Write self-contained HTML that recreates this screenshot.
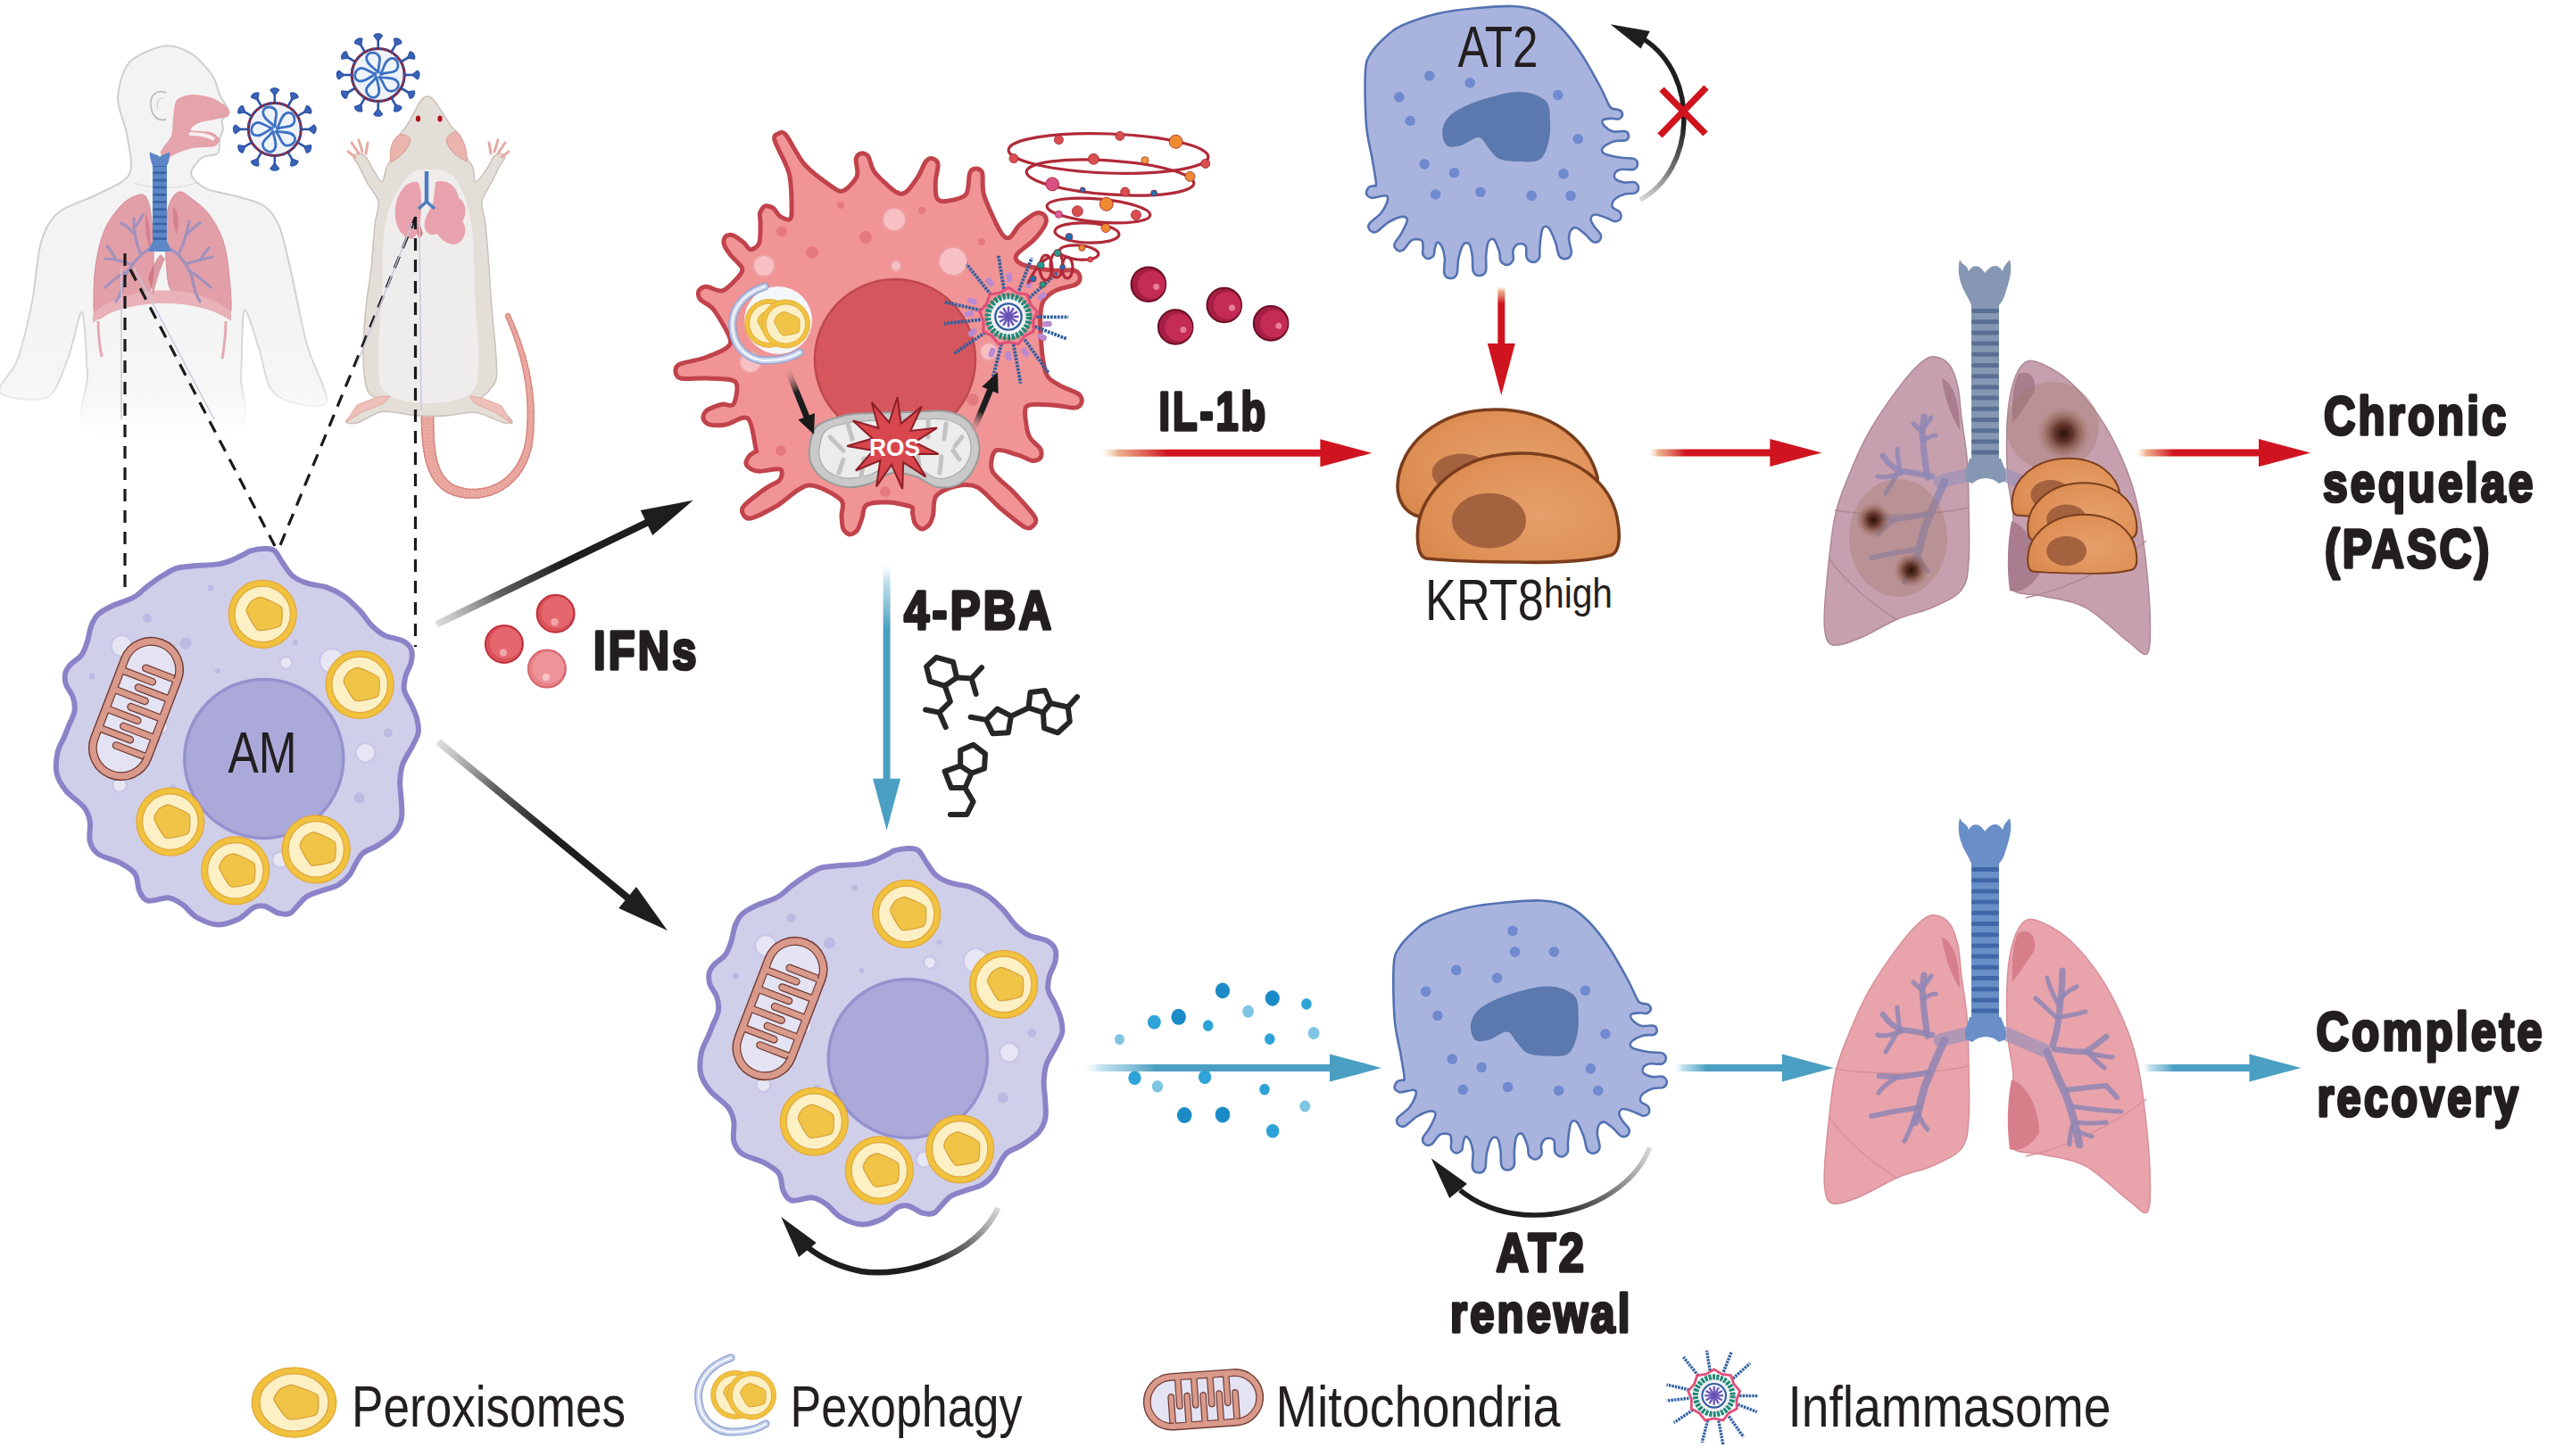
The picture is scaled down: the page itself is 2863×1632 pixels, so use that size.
<!DOCTYPE html>
<html><head><meta charset="utf-8"><style>
html,body{margin:0;padding:0;background:#fff;}
body{width:2863px;height:1632px;overflow:hidden;}
svg{display:block;}
text{font-family:"Liberation Sans",sans-serif;}
</style></head><body>
<svg width="2863" height="1632" viewBox="0 0 2863 1632" xmlns="http://www.w3.org/2000/svg">
<defs><linearGradient id="hg" gradientUnits="userSpaceOnUse" x1="0" y1="300" x2="0" y2="490"><stop offset="0" stop-color="#f3f3f4" stop-opacity="1"/><stop offset="0.7" stop-color="#f6f6f7" stop-opacity="1"/><stop offset="1" stop-color="#ffffff" stop-opacity="1"/></linearGradient><linearGradient id="hs" gradientUnits="userSpaceOnUse" x1="0" y1="300" x2="0" y2="490"><stop offset="0" stop-color="#cfcfd2" stop-opacity="1"/><stop offset="0.7" stop-color="#dcdcdf" stop-opacity="1"/><stop offset="1" stop-color="#ffffff" stop-opacity="0"/></linearGradient><linearGradient id="sa1" gradientUnits="userSpaceOnUse" x1="882" y1="413" x2="903.7344876077372" y2="466.6117360990851"><stop offset="0" stop-color="#f0a0a0" stop-opacity="0.2"/><stop offset="0.5" stop-color="#202020" stop-opacity="1"/><stop offset="1" stop-color="#1a1a1a" stop-opacity="1"/></linearGradient><linearGradient id="sa2" gradientUnits="userSpaceOnUse" x1="1090" y1="484" x2="1109.5169539122219" y2="437.29871742432596"><stop offset="0" stop-color="#f0a0a0" stop-opacity="0.2"/><stop offset="0.5" stop-color="#202020" stop-opacity="1"/><stop offset="1" stop-color="#1a1a1a" stop-opacity="1"/></linearGradient><radialGradient id="kg" cx="0.6" cy="0.55" r="0.7"><stop offset="0" stop-color="#e6a06b"/><stop offset="0.7" stop-color="#df9157"/><stop offset="1" stop-color="#d6864a"/></radialGradient><radialGradient id="les"><stop offset="0" stop-color="#2a0e08"/><stop offset="0.35" stop-color="#5a2c20" stop-opacity="0.9"/><stop offset="0.7" stop-color="#8a5a48" stop-opacity="0.5"/><stop offset="1" stop-color="#a87868" stop-opacity="0"/></radialGradient><linearGradient id="ca1" gradientUnits="userSpaceOnUse" x1="1838" y1="224" x2="1888" y2="140"><stop offset="0" stop-color="#d4d4d4" stop-opacity="0.9"/><stop offset="0.5" stop-color="#707070" stop-opacity="1"/><stop offset="1" stop-color="#1e1e1e" stop-opacity="1"/></linearGradient><linearGradient id="ca2" gradientUnits="userSpaceOnUse" x1="1848" y1="1286" x2="1735" y2="1360"><stop offset="0" stop-color="#d4d4d4" stop-opacity="0.9"/><stop offset="0.5" stop-color="#707070" stop-opacity="1"/><stop offset="1" stop-color="#1e1e1e" stop-opacity="1"/></linearGradient><linearGradient id="ca3" gradientUnits="userSpaceOnUse" x1="1118" y1="1354" x2="1040" y2="1420"><stop offset="0" stop-color="#d4d4d4" stop-opacity="0.9"/><stop offset="0.5" stop-color="#707070" stop-opacity="1"/><stop offset="1" stop-color="#1e1e1e" stop-opacity="1"/></linearGradient><linearGradient id="ga1" gradientUnits="userSpaceOnUse" x1="1234" y1="507.8" x2="1479.4" y2="507.8"><stop offset="0" stop-color="#f4c8a0" stop-opacity="0.0"/><stop offset="0.08" stop-color="#e89a70" stop-opacity="0.8"/><stop offset="0.3" stop-color="#d0141f" stop-opacity="1"/><stop offset="1" stop-color="#d0141f" stop-opacity="1"/></linearGradient><linearGradient id="ga2" gradientUnits="userSpaceOnUse" x1="1848" y1="507.4" x2="1983.3" y2="507.4"><stop offset="0" stop-color="#f4c8a0" stop-opacity="0.0"/><stop offset="0.08" stop-color="#e89a70" stop-opacity="0.8"/><stop offset="0.3" stop-color="#d0141f" stop-opacity="1"/><stop offset="1" stop-color="#d0141f" stop-opacity="1"/></linearGradient><linearGradient id="ga3" gradientUnits="userSpaceOnUse" x1="2394" y1="507.6" x2="2531.0" y2="507.6"><stop offset="0" stop-color="#f4c8a0" stop-opacity="0.0"/><stop offset="0.08" stop-color="#e89a70" stop-opacity="0.8"/><stop offset="0.3" stop-color="#d0141f" stop-opacity="1"/><stop offset="1" stop-color="#d0141f" stop-opacity="1"/></linearGradient><linearGradient id="ga4" gradientUnits="userSpaceOnUse" x1="1682.3" y1="321" x2="1682.3" y2="385.0"><stop offset="0" stop-color="#f4c8a0" stop-opacity="0.0"/><stop offset="0.08" stop-color="#e89a70" stop-opacity="0.8"/><stop offset="0.3" stop-color="#d0141f" stop-opacity="1"/><stop offset="1" stop-color="#d0141f" stop-opacity="1"/></linearGradient><linearGradient id="gb1" gradientUnits="userSpaceOnUse" x1="1213" y1="1197" x2="1490.0" y2="1197.0"><stop offset="0" stop-color="#e0f0f6" stop-opacity="0.0"/><stop offset="0.08" stop-color="#b0d8e8" stop-opacity="0.8"/><stop offset="0.3" stop-color="#4a9fc2" stop-opacity="1"/><stop offset="1" stop-color="#4a9fc2" stop-opacity="1"/></linearGradient><linearGradient id="gb2" gradientUnits="userSpaceOnUse" x1="1876" y1="1197" x2="1996.8000000000002" y2="1197.0"><stop offset="0" stop-color="#e0f0f6" stop-opacity="0.0"/><stop offset="0.08" stop-color="#b0d8e8" stop-opacity="0.8"/><stop offset="0.3" stop-color="#4a9fc2" stop-opacity="1"/><stop offset="1" stop-color="#4a9fc2" stop-opacity="1"/></linearGradient><linearGradient id="gb3" gradientUnits="userSpaceOnUse" x1="2400" y1="1197" x2="2520.5" y2="1197.0"><stop offset="0" stop-color="#e0f0f6" stop-opacity="0.0"/><stop offset="0.08" stop-color="#b0d8e8" stop-opacity="0.8"/><stop offset="0.3" stop-color="#4a9fc2" stop-opacity="1"/><stop offset="1" stop-color="#4a9fc2" stop-opacity="1"/></linearGradient><linearGradient id="gb4" gradientUnits="userSpaceOnUse" x1="993.6" y1="632" x2="993.6" y2="872.7"><stop offset="0" stop-color="#e0f0f6" stop-opacity="0.0"/><stop offset="0.08" stop-color="#b0d8e8" stop-opacity="0.8"/><stop offset="0.3" stop-color="#4a9fc2" stop-opacity="1"/><stop offset="1" stop-color="#4a9fc2" stop-opacity="1"/></linearGradient><linearGradient id="gk1" gradientUnits="userSpaceOnUse" x1="489" y1="700" x2="724.490074878493" y2="586.0611107991441"><stop offset="0" stop-color="#d0d0d0" stop-opacity="0.7"/><stop offset="0.3" stop-color="#606060" stop-opacity="1"/><stop offset="0.6" stop-color="#1e1e1e" stop-opacity="1"/><stop offset="1" stop-color="#1e1e1e" stop-opacity="1"/></linearGradient><linearGradient id="gk2" gradientUnits="userSpaceOnUse" x1="491" y1="831.4" x2="703.1225123869037" y2="1006.0357001550415"><stop offset="0" stop-color="#d0d0d0" stop-opacity="0.7"/><stop offset="0.3" stop-color="#606060" stop-opacity="1"/><stop offset="0.6" stop-color="#1e1e1e" stop-opacity="1"/><stop offset="1" stop-color="#1e1e1e" stop-opacity="1"/></linearGradient></defs>
<rect width="2863" height="1632" fill="#ffffff"/>
<path d="M184.6,51.5 C195.0,50.0 206.9,55.8 214.2,59.8 C221.5,63.8 229.0,73.6 233.0,78.0 C237.0,82.4 238.5,84.9 240.6,89.4 C242.7,93.9 244.5,102.6 247.0,108.0 C249.5,113.4 256.7,121.8 257.0,125.7 C257.3,129.6 250.1,131.1 249.0,134.0 C247.9,136.9 250.4,141.7 250.0,145.0 C249.6,148.3 246.9,152.0 246.0,156.0 C245.1,160.0 247.0,168.7 244.0,171.8 C241.0,175.0 230.5,173.5 226.0,177.0 C221.5,180.5 213.5,189.7 214.2,194.9 C214.9,200.1 223.1,207.6 230.7,211.4 C238.3,215.2 255.1,217.0 265.0,220.0 C274.9,223.0 289.4,226.1 296.6,231.2 C303.8,236.3 308.8,243.9 313.1,254.2 C317.4,264.5 322.0,287.6 325.0,300.0 C328.0,312.4 329.9,323.1 332.9,336.6 C335.9,350.1 340.0,373.0 345.0,390.0 C350.0,407.0 368.2,440.7 366.0,450.0 C363.8,459.3 339.4,454.2 330.0,452.0 C320.6,449.8 309.2,444.8 303.2,435.5 C297.2,426.2 294.4,403.1 290.0,390.0 C285.6,376.9 276.6,343.5 273.6,348.0 C270.6,352.5 271.7,399.4 270.0,420.0 C268.3,440.6 287.2,475.2 262.0,485.0 C236.8,494.8 126.6,494.8 102.0,485.0 C77.4,475.2 99.5,440.2 98.0,420.0 C96.5,399.8 95.3,352.6 92.0,350.0 C88.7,347.4 81.7,388.3 75.8,402.6 C69.9,416.9 64.1,439.8 52.7,445.4 C41.3,451.0 4.9,446.4 0.0,440.0 C-4.9,433.6 14.4,418.1 19.8,402.6 C25.2,387.1 32.4,356.4 36.3,336.6 C40.2,316.8 41.7,285.5 46.1,270.7 C50.5,255.9 56.5,245.7 65.9,237.8 C75.3,229.9 96.9,224.4 108.8,218.0 C120.7,211.6 140.0,205.1 145.0,194.9 C150.0,184.7 143.9,162.7 142.0,150.0 C140.1,137.3 131.6,122.0 132.0,110.0 C132.4,98.0 137.1,78.8 145.0,70.0 C152.9,61.2 174.2,53.0 184.6,51.5Z" fill="url(#hg)" stroke="url(#hs)" stroke-width="2"/><path d="M186,104 C176,100 168,106 169,118 C170,130 176,136 186,134" fill="none" stroke="#bdbdc2" stroke-width="1.8"/><path d="M183,110 C177,110 175,116 177,122" fill="none" stroke="#cfcfd3" stroke-width="1.2"/><path d="M150,205 C170,212 200,212 220,205" fill="none" stroke="#dadadd" stroke-width="1.2"/><path d="M198.0,112.0 C200.9,108.5 210.7,106.3 216.0,106.0 C221.3,105.7 232.9,108.1 238.0,110.0 C243.1,111.9 251.6,117.3 254.0,120.0 C256.4,122.7 257.9,128.1 256.0,130.0 C254.1,131.9 244.5,132.9 240.0,134.0 C235.5,135.1 225.5,136.4 222.0,138.0 C218.5,139.6 212.1,144.7 214.0,146.0 C215.9,147.3 231.7,146.7 236.0,148.0 C240.3,149.3 245.5,153.9 246.0,156.0 C246.5,158.1 244.0,162.7 240.0,164.0 C236.0,165.3 221.6,164.9 216.0,166.0 C210.4,167.1 202.0,170.4 198.0,172.0 C194.0,173.6 188.4,178.3 186.0,178.0 C183.6,177.7 179.2,173.5 180.0,170.0 C180.8,166.5 190.1,157.1 192.0,152.0 C193.9,146.9 193.2,137.3 194.0,132.0 C194.8,126.7 195.1,115.5 198.0,112.0Z" fill="#e5a3aa"/><path d="M212,150 C222,150 234,152 240,156" stroke="#f7f0f0" stroke-width="4" fill="none"/><path d="M158.0,218.0 C162.7,217.7 164.0,221.0 166.0,226.0 C168.0,231.0 169.0,239.0 170.0,248.0 C171.0,257.0 171.8,269.3 172.0,280.0 C172.2,290.7 172.2,303.3 171.0,312.0 C169.8,320.7 168.8,327.3 165.0,332.0 C161.2,336.7 154.2,337.5 148.0,340.0 C141.8,342.5 134.7,344.2 128.0,347.0 C121.3,349.8 111.8,359.8 108.0,357.0 C104.2,354.2 105.0,340.8 105.0,330.0 C105.0,319.2 105.8,304.3 108.0,292.0 C110.2,279.7 113.0,266.7 118.0,256.0 C123.0,245.3 131.3,234.3 138.0,228.0 C144.7,221.7 153.3,218.3 158.0,218.0Z" fill="#e39fa8" stroke="#d68d98" stroke-width="1"/><path d="M201.0,215.0 C204.8,214.3 208.5,217.8 214.0,222.0 C219.5,226.2 228.0,232.0 234.0,240.0 C240.0,248.0 246.2,258.3 250.0,270.0 C253.8,281.7 255.7,296.3 257.0,310.0 C258.3,323.7 260.5,346.5 258.0,352.0 C255.5,357.5 248.0,346.0 242.0,343.0 C236.0,340.0 228.7,336.0 222.0,334.0 C215.3,332.0 207.3,333.0 202.0,331.0 C196.7,329.0 192.7,328.8 190.0,322.0 C187.3,315.2 186.7,302.0 186.0,290.0 C185.3,278.0 185.2,260.7 186.0,250.0 C186.8,239.3 188.5,231.8 191.0,226.0 C193.5,220.2 197.2,215.7 201.0,215.0Z" fill="#e39fa8" stroke="#d68d98" stroke-width="1"/><path d="M163,238 C168,250 170,265 168,280 C164,270 162,255 163,238Z" fill="#d4828e"/><path d="M194,232 C200,236 202,250 198,262 C194,255 193,242 194,232Z" fill="#d4828e"/><path d="M104,352 C140,318 222,316 259,350 L259,360 C222,332 140,334 104,362 Z" fill="#e9b2b8"/><path d="M110,360 C110,375 112,390 114,400" stroke="#e6aab1" stroke-width="3" fill="none"/><path d="M253,360 C253,375 251,390 249,402" stroke="#e6aab1" stroke-width="3" fill="none"/><path d="M166,312 C170,300 175,290 180,285 L185,290 C180,300 176,312 172,330Z" fill="#c8606e" opacity="0.6"/><path d="M172,276 C160,282 150,292 140,310 M158,286 C152,272 150,260 150,245 M150,262 C144,255 140,252 136,250 M150,256 C155,250 158,246 160,240 M146,296 C135,292 126,290 118,290 M130,291 C126,284 124,280 120,276 M142,304 C132,310 124,316 118,322 M140,310 C138,322 134,332 130,338" fill="none" stroke="#9a8fbf" stroke-width="3.2" stroke-linecap="round" opacity="0.9"/><path d="M186,276 C198,282 208,292 215,310 M200,286 C206,272 210,260 212,248 M210,262 C216,256 220,252 224,250 M208,296 C220,292 230,290 238,288 M224,292 C228,286 230,282 234,278 M213,304 C222,310 230,316 236,322 M215,310 C217,322 220,332 224,338" fill="none" stroke="#9a8fbf" stroke-width="3.2" stroke-linecap="round" opacity="0.9"/><rect x="171" y="178" width="16" height="98" rx="4" fill="#5d86c6"/><rect x="171" y="184.0" width="16" height="3" rx="1.5" fill="#3d66aa"/><rect x="171" y="192.2" width="16" height="3" rx="1.5" fill="#3d66aa"/><rect x="171" y="200.4" width="16" height="3" rx="1.5" fill="#3d66aa"/><rect x="171" y="208.6" width="16" height="3" rx="1.5" fill="#3d66aa"/><rect x="171" y="216.8" width="16" height="3" rx="1.5" fill="#3d66aa"/><rect x="171" y="225.0" width="16" height="3" rx="1.5" fill="#3d66aa"/><rect x="171" y="233.2" width="16" height="3" rx="1.5" fill="#3d66aa"/><rect x="171" y="241.4" width="16" height="3" rx="1.5" fill="#3d66aa"/><rect x="171" y="249.6" width="16" height="3" rx="1.5" fill="#3d66aa"/><rect x="171" y="257.8" width="16" height="3" rx="1.5" fill="#3d66aa"/><rect x="171" y="266.0" width="16" height="3" rx="1.5" fill="#3d66aa"/><path d="M168,170 C172,174 176,172 179,176 C182,172 186,174 190,170 C191,178 188,184 187,186 L171,186 C170,182 167,176 168,170Z" fill="#5d86c6"/><path d="M170,272 L188,272 L192,282 L166,282Z" fill="#5d86c6"/><line x1="479.0" y1="462.0" x2="479.0" y2="469.9" stroke="#d78880" stroke-width="15.0" stroke-linecap="round"/><line x1="479.0" y1="469.9" x2="479.2" y2="477.5" stroke="#d78880" stroke-width="14.8" stroke-linecap="round"/><line x1="479.2" y1="477.5" x2="479.4" y2="484.8" stroke="#d78880" stroke-width="14.6" stroke-linecap="round"/><line x1="479.4" y1="484.8" x2="479.8" y2="491.8" stroke="#d78880" stroke-width="14.4" stroke-linecap="round"/><line x1="479.8" y1="491.8" x2="480.4" y2="498.4" stroke="#d78880" stroke-width="14.2" stroke-linecap="round"/><line x1="480.4" y1="498.4" x2="481.2" y2="504.7" stroke="#d78880" stroke-width="14.1" stroke-linecap="round"/><line x1="481.2" y1="504.7" x2="482.1" y2="510.6" stroke="#d78880" stroke-width="13.9" stroke-linecap="round"/><line x1="482.1" y1="510.6" x2="483.4" y2="516.2" stroke="#d78880" stroke-width="13.7" stroke-linecap="round"/><line x1="483.4" y1="516.2" x2="484.9" y2="521.5" stroke="#d78880" stroke-width="13.5" stroke-linecap="round"/><line x1="484.9" y1="521.5" x2="486.7" y2="526.4" stroke="#d78880" stroke-width="13.3" stroke-linecap="round"/><line x1="486.7" y1="526.4" x2="488.8" y2="531.0" stroke="#d78880" stroke-width="13.1" stroke-linecap="round"/><line x1="488.8" y1="531.0" x2="491.2" y2="535.1" stroke="#d78880" stroke-width="12.9" stroke-linecap="round"/><line x1="491.2" y1="535.1" x2="494.1" y2="538.9" stroke="#d78880" stroke-width="12.8" stroke-linecap="round"/><line x1="494.1" y1="538.9" x2="497.3" y2="542.3" stroke="#d78880" stroke-width="12.6" stroke-linecap="round"/><line x1="497.3" y1="542.3" x2="500.9" y2="545.4" stroke="#d78880" stroke-width="12.4" stroke-linecap="round"/><line x1="500.9" y1="545.4" x2="505.0" y2="548.0" stroke="#d78880" stroke-width="12.2" stroke-linecap="round"/><line x1="505.0" y1="548.0" x2="510.8" y2="550.3" stroke="#d78880" stroke-width="12.0" stroke-linecap="round"/><line x1="510.8" y1="550.3" x2="516.9" y2="552.0" stroke="#d78880" stroke-width="11.8" stroke-linecap="round"/><line x1="516.9" y1="552.0" x2="523.1" y2="553.1" stroke="#d78880" stroke-width="11.6" stroke-linecap="round"/><line x1="523.1" y1="553.1" x2="529.6" y2="553.4" stroke="#d78880" stroke-width="11.4" stroke-linecap="round"/><line x1="529.6" y1="553.4" x2="536.1" y2="553.1" stroke="#d78880" stroke-width="11.2" stroke-linecap="round"/><line x1="536.1" y1="553.1" x2="542.5" y2="552.1" stroke="#d78880" stroke-width="11.1" stroke-linecap="round"/><line x1="542.5" y1="552.1" x2="549.0" y2="550.4" stroke="#d78880" stroke-width="10.9" stroke-linecap="round"/><line x1="549.0" y1="550.4" x2="555.2" y2="548.0" stroke="#d78880" stroke-width="10.7" stroke-linecap="round"/><line x1="555.2" y1="548.0" x2="561.3" y2="544.8" stroke="#d78880" stroke-width="10.5" stroke-linecap="round"/><line x1="561.3" y1="544.8" x2="567.1" y2="540.9" stroke="#d78880" stroke-width="10.3" stroke-linecap="round"/><line x1="567.1" y1="540.9" x2="572.5" y2="536.1" stroke="#d78880" stroke-width="10.1" stroke-linecap="round"/><line x1="572.5" y1="536.1" x2="577.6" y2="530.6" stroke="#d78880" stroke-width="9.9" stroke-linecap="round"/><line x1="577.6" y1="530.6" x2="582.1" y2="524.2" stroke="#d78880" stroke-width="9.8" stroke-linecap="round"/><line x1="582.1" y1="524.2" x2="586.0" y2="517.0" stroke="#d78880" stroke-width="9.6" stroke-linecap="round"/><line x1="586.0" y1="517.0" x2="589.4" y2="508.9" stroke="#d78880" stroke-width="9.4" stroke-linecap="round"/><line x1="589.4" y1="508.9" x2="592.0" y2="500.0" stroke="#d78880" stroke-width="9.2" stroke-linecap="round"/><line x1="592.0" y1="500.0" x2="593.3" y2="490.6" stroke="#d78880" stroke-width="9.0" stroke-linecap="round"/><line x1="593.3" y1="490.6" x2="594.2" y2="481.3" stroke="#d78880" stroke-width="8.8" stroke-linecap="round"/><line x1="594.2" y1="481.3" x2="594.6" y2="471.9" stroke="#d78880" stroke-width="8.6" stroke-linecap="round"/><line x1="594.6" y1="471.9" x2="594.7" y2="462.6" stroke="#d78880" stroke-width="8.4" stroke-linecap="round"/><line x1="594.7" y1="462.6" x2="594.4" y2="453.2" stroke="#d78880" stroke-width="8.2" stroke-linecap="round"/><line x1="594.4" y1="453.2" x2="593.8" y2="444.0" stroke="#d78880" stroke-width="8.1" stroke-linecap="round"/><line x1="593.8" y1="444.0" x2="592.8" y2="434.7" stroke="#d78880" stroke-width="7.9" stroke-linecap="round"/><line x1="592.8" y1="434.7" x2="591.4" y2="425.5" stroke="#d78880" stroke-width="7.7" stroke-linecap="round"/><line x1="591.4" y1="425.5" x2="589.7" y2="416.3" stroke="#d78880" stroke-width="7.5" stroke-linecap="round"/><line x1="589.7" y1="416.3" x2="587.6" y2="407.2" stroke="#d78880" stroke-width="7.3" stroke-linecap="round"/><line x1="587.6" y1="407.2" x2="585.3" y2="398.2" stroke="#d78880" stroke-width="7.1" stroke-linecap="round"/><line x1="585.3" y1="398.2" x2="582.6" y2="389.2" stroke="#d78880" stroke-width="6.9" stroke-linecap="round"/><line x1="582.6" y1="389.2" x2="579.6" y2="380.3" stroke="#d78880" stroke-width="6.8" stroke-linecap="round"/><line x1="579.6" y1="380.3" x2="576.3" y2="371.4" stroke="#d78880" stroke-width="6.6" stroke-linecap="round"/><line x1="576.3" y1="371.4" x2="572.8" y2="362.7" stroke="#d78880" stroke-width="6.4" stroke-linecap="round"/><line x1="572.8" y1="362.7" x2="569.0" y2="354.0" stroke="#d78880" stroke-width="6.2" stroke-linecap="round"/><line x1="479.0" y1="462.0" x2="479.0" y2="469.9" stroke="#eba9a2" stroke-width="11.5" stroke-linecap="round"/><line x1="479.0" y1="469.9" x2="479.2" y2="477.5" stroke="#eba9a2" stroke-width="11.3" stroke-linecap="round"/><line x1="479.2" y1="477.5" x2="479.4" y2="484.8" stroke="#eba9a2" stroke-width="11.2" stroke-linecap="round"/><line x1="479.4" y1="484.8" x2="479.8" y2="491.8" stroke="#eba9a2" stroke-width="11.0" stroke-linecap="round"/><line x1="479.8" y1="491.8" x2="480.4" y2="498.4" stroke="#eba9a2" stroke-width="10.8" stroke-linecap="round"/><line x1="480.4" y1="498.4" x2="481.2" y2="504.7" stroke="#eba9a2" stroke-width="10.6" stroke-linecap="round"/><line x1="481.2" y1="504.7" x2="482.1" y2="510.6" stroke="#eba9a2" stroke-width="10.5" stroke-linecap="round"/><line x1="482.1" y1="510.6" x2="483.4" y2="516.2" stroke="#eba9a2" stroke-width="10.3" stroke-linecap="round"/><line x1="483.4" y1="516.2" x2="484.9" y2="521.5" stroke="#eba9a2" stroke-width="10.1" stroke-linecap="round"/><line x1="484.9" y1="521.5" x2="486.7" y2="526.4" stroke="#eba9a2" stroke-width="9.9" stroke-linecap="round"/><line x1="486.7" y1="526.4" x2="488.8" y2="531.0" stroke="#eba9a2" stroke-width="9.8" stroke-linecap="round"/><line x1="488.8" y1="531.0" x2="491.2" y2="535.1" stroke="#eba9a2" stroke-width="9.6" stroke-linecap="round"/><line x1="491.2" y1="535.1" x2="494.1" y2="538.9" stroke="#eba9a2" stroke-width="9.4" stroke-linecap="round"/><line x1="494.1" y1="538.9" x2="497.3" y2="542.3" stroke="#eba9a2" stroke-width="9.3" stroke-linecap="round"/><line x1="497.3" y1="542.3" x2="500.9" y2="545.4" stroke="#eba9a2" stroke-width="9.1" stroke-linecap="round"/><line x1="500.9" y1="545.4" x2="505.0" y2="548.0" stroke="#eba9a2" stroke-width="8.9" stroke-linecap="round"/><line x1="505.0" y1="548.0" x2="510.8" y2="550.3" stroke="#eba9a2" stroke-width="8.7" stroke-linecap="round"/><line x1="510.8" y1="550.3" x2="516.9" y2="552.0" stroke="#eba9a2" stroke-width="8.6" stroke-linecap="round"/><line x1="516.9" y1="552.0" x2="523.1" y2="553.1" stroke="#eba9a2" stroke-width="8.4" stroke-linecap="round"/><line x1="523.1" y1="553.1" x2="529.6" y2="553.4" stroke="#eba9a2" stroke-width="8.2" stroke-linecap="round"/><line x1="529.6" y1="553.4" x2="536.1" y2="553.1" stroke="#eba9a2" stroke-width="8.0" stroke-linecap="round"/><line x1="536.1" y1="553.1" x2="542.5" y2="552.1" stroke="#eba9a2" stroke-width="7.9" stroke-linecap="round"/><line x1="542.5" y1="552.1" x2="549.0" y2="550.4" stroke="#eba9a2" stroke-width="7.7" stroke-linecap="round"/><line x1="549.0" y1="550.4" x2="555.2" y2="548.0" stroke="#eba9a2" stroke-width="7.5" stroke-linecap="round"/><line x1="555.2" y1="548.0" x2="561.3" y2="544.8" stroke="#eba9a2" stroke-width="7.3" stroke-linecap="round"/><line x1="561.3" y1="544.8" x2="567.1" y2="540.9" stroke="#eba9a2" stroke-width="7.2" stroke-linecap="round"/><line x1="567.1" y1="540.9" x2="572.5" y2="536.1" stroke="#eba9a2" stroke-width="7.0" stroke-linecap="round"/><line x1="572.5" y1="536.1" x2="577.6" y2="530.6" stroke="#eba9a2" stroke-width="6.8" stroke-linecap="round"/><line x1="577.6" y1="530.6" x2="582.1" y2="524.2" stroke="#eba9a2" stroke-width="6.7" stroke-linecap="round"/><line x1="582.1" y1="524.2" x2="586.0" y2="517.0" stroke="#eba9a2" stroke-width="6.5" stroke-linecap="round"/><line x1="586.0" y1="517.0" x2="589.4" y2="508.9" stroke="#eba9a2" stroke-width="6.3" stroke-linecap="round"/><line x1="589.4" y1="508.9" x2="592.0" y2="500.0" stroke="#eba9a2" stroke-width="6.1" stroke-linecap="round"/><line x1="592.0" y1="500.0" x2="593.3" y2="490.6" stroke="#eba9a2" stroke-width="6.0" stroke-linecap="round"/><line x1="593.3" y1="490.6" x2="594.2" y2="481.3" stroke="#eba9a2" stroke-width="5.8" stroke-linecap="round"/><line x1="594.2" y1="481.3" x2="594.6" y2="471.9" stroke="#eba9a2" stroke-width="5.6" stroke-linecap="round"/><line x1="594.6" y1="471.9" x2="594.7" y2="462.6" stroke="#eba9a2" stroke-width="5.4" stroke-linecap="round"/><line x1="594.7" y1="462.6" x2="594.4" y2="453.2" stroke="#eba9a2" stroke-width="5.3" stroke-linecap="round"/><line x1="594.4" y1="453.2" x2="593.8" y2="444.0" stroke="#eba9a2" stroke-width="5.1" stroke-linecap="round"/><line x1="593.8" y1="444.0" x2="592.8" y2="434.7" stroke="#eba9a2" stroke-width="4.9" stroke-linecap="round"/><line x1="592.8" y1="434.7" x2="591.4" y2="425.5" stroke="#eba9a2" stroke-width="4.8" stroke-linecap="round"/><line x1="591.4" y1="425.5" x2="589.7" y2="416.3" stroke="#eba9a2" stroke-width="4.6" stroke-linecap="round"/><line x1="589.7" y1="416.3" x2="587.6" y2="407.2" stroke="#eba9a2" stroke-width="4.4" stroke-linecap="round"/><line x1="587.6" y1="407.2" x2="585.3" y2="398.2" stroke="#eba9a2" stroke-width="4.2" stroke-linecap="round"/><line x1="585.3" y1="398.2" x2="582.6" y2="389.2" stroke="#eba9a2" stroke-width="4.1" stroke-linecap="round"/><line x1="582.6" y1="389.2" x2="579.6" y2="380.3" stroke="#eba9a2" stroke-width="3.9" stroke-linecap="round"/><line x1="579.6" y1="380.3" x2="576.3" y2="371.4" stroke="#eba9a2" stroke-width="3.7" stroke-linecap="round"/><line x1="576.3" y1="371.4" x2="572.8" y2="362.7" stroke="#eba9a2" stroke-width="3.5" stroke-linecap="round"/><line x1="572.8" y1="362.7" x2="569.0" y2="354.0" stroke="#eba9a2" stroke-width="3.4" stroke-linecap="round"/><path d="M479,462 C479,505 482,535 505,548 C535,562 580,550 592,500 C600,450 590,400 569,354" fill="none" stroke="#d99690" stroke-width="7" stroke-dasharray="0.8 3.2" opacity="0.6"/><path d="M479.4,107.9 C481.5,107.9 483.2,108.7 486.0,112.0 C488.8,115.3 495.0,125.5 498.0,130.0 C501.0,134.5 503.2,138.4 506.0,142.0 C508.8,145.6 514.1,149.1 516.5,154.0 C518.9,158.9 520.0,169.9 522.0,175.0 C524.0,180.1 528.4,183.7 530.0,188.0 C531.6,192.3 530.8,203.7 533.0,204.0 C535.2,204.3 542.0,194.2 545.0,190.0 C548.0,185.8 550.8,178.7 553.0,176.0 C555.2,173.3 558.0,172.0 560.0,172.0 C562.0,172.0 566.0,173.9 566.0,176.0 C566.0,178.1 562.4,181.5 560.0,186.0 C557.6,190.5 553.0,200.0 550.0,206.0 C547.0,212.0 540.9,219.1 540.0,226.0 C539.1,232.9 542.8,240.9 544.0,252.0 C545.2,263.1 547.0,286.1 548.0,300.0 C549.0,313.9 549.8,330.0 551.0,345.0 C552.2,360.0 555.2,388.0 556.0,400.0 C556.8,412.0 557.2,419.3 556.0,425.0 C554.8,430.7 551.1,433.9 548.0,438.0 C544.9,442.1 533.2,448.7 535.0,452.0 C536.8,455.3 554.1,457.0 560.0,460.0 C565.9,463.0 573.2,469.9 574.0,472.0 C574.8,474.1 569.4,474.9 565.0,474.0 C560.6,473.1 550.2,467.8 545.0,466.0 C539.8,464.2 536.8,462.0 530.0,462.0 C523.2,462.0 509.0,465.4 500.0,466.0 C491.0,466.6 479.0,466.6 470.0,466.0 C461.0,465.4 446.8,462.6 440.0,462.0 C433.2,461.4 431.0,460.2 425.0,462.0 C419.0,463.8 405.6,472.5 400.0,474.0 C394.4,475.5 387.2,474.4 388.0,472.0 C388.8,469.6 399.3,461.3 405.0,458.0 C410.7,454.7 424.9,453.0 426.0,450.0 C427.1,447.0 414.9,445.5 412.0,438.0 C409.1,430.5 407.3,413.9 407.0,400.0 C406.7,386.1 408.6,360.0 410.0,345.0 C411.4,330.0 414.5,313.9 416.0,300.0 C417.5,286.1 418.8,263.1 420.0,252.0 C421.2,240.9 425.2,232.9 424.0,226.0 C422.8,219.1 415.3,212.0 412.0,206.0 C408.7,200.0 404.4,190.5 402.0,186.0 C399.6,181.5 396.0,178.1 396.0,176.0 C396.0,173.9 399.9,172.0 402.0,172.0 C404.1,172.0 407.6,173.3 410.0,176.0 C412.4,178.7 415.3,185.8 418.0,190.0 C420.7,194.2 425.8,204.3 428.0,204.0 C430.2,203.7 431.2,192.3 433.0,188.0 C434.8,183.7 438.1,180.1 440.0,175.0 C441.9,169.9 443.8,158.9 446.0,154.0 C448.2,149.1 452.6,145.6 455.0,142.0 C457.4,138.4 459.4,134.5 462.0,130.0 C464.6,125.5 469.4,115.3 472.0,112.0 C474.6,108.7 477.3,107.9 479.4,107.9Z" fill="#e4ded8" stroke="#cbc1b8" stroke-width="1.5"/><path d="M455.0,200.0 C463.0,190.0 470.8,190.0 480.0,190.0 C489.2,190.0 502.0,190.0 510.0,200.0 C518.0,210.0 524.3,228.3 528.0,250.0 C531.7,271.7 530.7,305.0 532.0,330.0 C533.3,355.0 536.7,381.7 536.0,400.0 C535.3,418.3 537.3,431.3 528.0,440.0 C518.7,448.7 496.0,452.0 480.0,452.0 C464.0,452.0 441.3,448.7 432.0,440.0 C422.7,431.3 424.7,418.3 424.0,400.0 C423.3,381.7 426.7,355.0 428.0,330.0 C429.3,305.0 427.5,271.7 432.0,250.0 C436.5,228.3 447.0,210.0 455.0,200.0Z" fill="#efedec"/><path d="M446,152 C438,158 436,172 438,182 C448,176 458,168 460,156 C456,150 450,150 446,152Z" fill="#eab5ae" stroke="#d59a92" stroke-width="1"/><path d="M512,148 C520,156 524,170 523,181 C512,176 502,168 500,156 C504,150 508,147 512,148Z" fill="#eab5ae" stroke="#d59a92" stroke-width="1"/><ellipse cx="468.5" cy="133" rx="2.6" ry="3.6" fill="#b0101a"/><ellipse cx="493" cy="133" rx="2.6" ry="3.6" fill="#b0101a"/><path d="M402,172 L394,160 M406,170 L402,157 M410,172 L412,160 M398,176 L390,170" stroke="#e6aaa4" stroke-width="3" stroke-linecap="round"/><path d="M558,172 L566,160 M554,170 L558,157 M550,172 L548,160 M562,176 L570,170" stroke="#e6aaa4" stroke-width="3" stroke-linecap="round"/><path d="M387,474 L400,454 L423,445 L437,444 L430,452 L405,462Z" fill="#eec0ba" stroke="#e2a8a0" stroke-width="1"/><path d="M574,475 L562,455 L540,446 L526,444 L532,452 L556,463Z" fill="#eec0ba" stroke="#e2a8a0" stroke-width="1"/><path d="M468,204 C458,202 446,212 443,232 C441,250 448,266 462,268 C470,262 472,246 472,230 C472,218 472,210 468,204Z" fill="#e8a2ad"/><path d="M488,204 C500,200 512,208 514,222 C522,226 524,240 518,248 C524,256 522,270 510,274 C500,274 494,268 490,262 C480,266 474,258 476,248 C478,238 486,232 486,222 Z" fill="#e8a2ad"/><path d="M470,250 C466,256 466,262 470,268 L474,262Z" fill="#d8808e"/><line x1="478" y1="192" x2="478" y2="226" stroke="#4d7cc0" stroke-width="4.5"/><path d="M469,234 L478,226 L487,234" stroke="#4d7cc0" stroke-width="3.5" fill="none"/><g transform="translate(307.8,144.9) rotate(0)"><g transform="rotate(0)"><line x1="0" y1="-28" x2="0" y2="-40" stroke="#2e56a8" stroke-width="2.6"/><path d="M0,-38 L-4.8,-44 C-3,-47 3,-47 4.8,-44 Z" fill="#3a62b8" stroke="#2e56a8" stroke-width="1.4" stroke-linejoin="round"/></g><g transform="rotate(30)"><line x1="0" y1="-28" x2="0" y2="-40" stroke="#2e56a8" stroke-width="2.6"/><path d="M0,-38 L-4.8,-44 C-3,-47 3,-47 4.8,-44 Z" fill="#3a62b8" stroke="#2e56a8" stroke-width="1.4" stroke-linejoin="round"/></g><g transform="rotate(60)"><line x1="0" y1="-28" x2="0" y2="-40" stroke="#2e56a8" stroke-width="2.6"/><path d="M0,-38 L-4.8,-44 C-3,-47 3,-47 4.8,-44 Z" fill="#3a62b8" stroke="#2e56a8" stroke-width="1.4" stroke-linejoin="round"/></g><g transform="rotate(90)"><line x1="0" y1="-28" x2="0" y2="-40" stroke="#2e56a8" stroke-width="2.6"/><path d="M0,-38 L-4.8,-44 C-3,-47 3,-47 4.8,-44 Z" fill="#3a62b8" stroke="#2e56a8" stroke-width="1.4" stroke-linejoin="round"/></g><g transform="rotate(120)"><line x1="0" y1="-28" x2="0" y2="-40" stroke="#2e56a8" stroke-width="2.6"/><path d="M0,-38 L-4.8,-44 C-3,-47 3,-47 4.8,-44 Z" fill="#3a62b8" stroke="#2e56a8" stroke-width="1.4" stroke-linejoin="round"/></g><g transform="rotate(150)"><line x1="0" y1="-28" x2="0" y2="-40" stroke="#2e56a8" stroke-width="2.6"/><path d="M0,-38 L-4.8,-44 C-3,-47 3,-47 4.8,-44 Z" fill="#3a62b8" stroke="#2e56a8" stroke-width="1.4" stroke-linejoin="round"/></g><g transform="rotate(180)"><line x1="0" y1="-28" x2="0" y2="-40" stroke="#2e56a8" stroke-width="2.6"/><path d="M0,-38 L-4.8,-44 C-3,-47 3,-47 4.8,-44 Z" fill="#3a62b8" stroke="#2e56a8" stroke-width="1.4" stroke-linejoin="round"/></g><g transform="rotate(210)"><line x1="0" y1="-28" x2="0" y2="-40" stroke="#2e56a8" stroke-width="2.6"/><path d="M0,-38 L-4.8,-44 C-3,-47 3,-47 4.8,-44 Z" fill="#3a62b8" stroke="#2e56a8" stroke-width="1.4" stroke-linejoin="round"/></g><g transform="rotate(240)"><line x1="0" y1="-28" x2="0" y2="-40" stroke="#2e56a8" stroke-width="2.6"/><path d="M0,-38 L-4.8,-44 C-3,-47 3,-47 4.8,-44 Z" fill="#3a62b8" stroke="#2e56a8" stroke-width="1.4" stroke-linejoin="round"/></g><g transform="rotate(270)"><line x1="0" y1="-28" x2="0" y2="-40" stroke="#2e56a8" stroke-width="2.6"/><path d="M0,-38 L-4.8,-44 C-3,-47 3,-47 4.8,-44 Z" fill="#3a62b8" stroke="#2e56a8" stroke-width="1.4" stroke-linejoin="round"/></g><g transform="rotate(300)"><line x1="0" y1="-28" x2="0" y2="-40" stroke="#2e56a8" stroke-width="2.6"/><path d="M0,-38 L-4.8,-44 C-3,-47 3,-47 4.8,-44 Z" fill="#3a62b8" stroke="#2e56a8" stroke-width="1.4" stroke-linejoin="round"/></g><g transform="rotate(330)"><line x1="0" y1="-28" x2="0" y2="-40" stroke="#2e56a8" stroke-width="2.6"/><path d="M0,-38 L-4.8,-44 C-3,-47 3,-47 4.8,-44 Z" fill="#3a62b8" stroke="#2e56a8" stroke-width="1.4" stroke-linejoin="round"/></g><circle r="29.5" fill="#eef3fa" stroke="#7a2a48" stroke-width="3"/><circle r="29.5" fill="none" stroke="#2e56a8" stroke-width="3" stroke-dasharray="2 5"/><g transform="rotate(20)"><path d="M0,-2 C-5,-6 -17,-6 -19,-14 C-20,-21 -11,-24 -6,-20 C-2,-16 -4,-8 0,-2" fill="none" stroke="#3c70c4" stroke-width="2.8"/></g><g transform="rotate(92)"><path d="M0,-2 C-5,-6 -17,-6 -19,-14 C-20,-21 -11,-24 -6,-20 C-2,-16 -4,-8 0,-2" fill="none" stroke="#3c70c4" stroke-width="2.8"/></g><g transform="rotate(164)"><path d="M0,-2 C-5,-6 -17,-6 -19,-14 C-20,-21 -11,-24 -6,-20 C-2,-16 -4,-8 0,-2" fill="none" stroke="#3c70c4" stroke-width="2.8"/></g><g transform="rotate(236)"><path d="M0,-2 C-5,-6 -17,-6 -19,-14 C-20,-21 -11,-24 -6,-20 C-2,-16 -4,-8 0,-2" fill="none" stroke="#3c70c4" stroke-width="2.8"/></g><g transform="rotate(308)"><path d="M0,-2 C-5,-6 -17,-6 -19,-14 C-20,-21 -11,-24 -6,-20 C-2,-16 -4,-8 0,-2" fill="none" stroke="#3c70c4" stroke-width="2.8"/></g></g><g transform="translate(423.7,84) rotate(0)"><g transform="rotate(0)"><line x1="0" y1="-28" x2="0" y2="-40" stroke="#2e56a8" stroke-width="2.6"/><path d="M0,-38 L-4.8,-44 C-3,-47 3,-47 4.8,-44 Z" fill="#3a62b8" stroke="#2e56a8" stroke-width="1.4" stroke-linejoin="round"/></g><g transform="rotate(30)"><line x1="0" y1="-28" x2="0" y2="-40" stroke="#2e56a8" stroke-width="2.6"/><path d="M0,-38 L-4.8,-44 C-3,-47 3,-47 4.8,-44 Z" fill="#3a62b8" stroke="#2e56a8" stroke-width="1.4" stroke-linejoin="round"/></g><g transform="rotate(60)"><line x1="0" y1="-28" x2="0" y2="-40" stroke="#2e56a8" stroke-width="2.6"/><path d="M0,-38 L-4.8,-44 C-3,-47 3,-47 4.8,-44 Z" fill="#3a62b8" stroke="#2e56a8" stroke-width="1.4" stroke-linejoin="round"/></g><g transform="rotate(90)"><line x1="0" y1="-28" x2="0" y2="-40" stroke="#2e56a8" stroke-width="2.6"/><path d="M0,-38 L-4.8,-44 C-3,-47 3,-47 4.8,-44 Z" fill="#3a62b8" stroke="#2e56a8" stroke-width="1.4" stroke-linejoin="round"/></g><g transform="rotate(120)"><line x1="0" y1="-28" x2="0" y2="-40" stroke="#2e56a8" stroke-width="2.6"/><path d="M0,-38 L-4.8,-44 C-3,-47 3,-47 4.8,-44 Z" fill="#3a62b8" stroke="#2e56a8" stroke-width="1.4" stroke-linejoin="round"/></g><g transform="rotate(150)"><line x1="0" y1="-28" x2="0" y2="-40" stroke="#2e56a8" stroke-width="2.6"/><path d="M0,-38 L-4.8,-44 C-3,-47 3,-47 4.8,-44 Z" fill="#3a62b8" stroke="#2e56a8" stroke-width="1.4" stroke-linejoin="round"/></g><g transform="rotate(180)"><line x1="0" y1="-28" x2="0" y2="-40" stroke="#2e56a8" stroke-width="2.6"/><path d="M0,-38 L-4.8,-44 C-3,-47 3,-47 4.8,-44 Z" fill="#3a62b8" stroke="#2e56a8" stroke-width="1.4" stroke-linejoin="round"/></g><g transform="rotate(210)"><line x1="0" y1="-28" x2="0" y2="-40" stroke="#2e56a8" stroke-width="2.6"/><path d="M0,-38 L-4.8,-44 C-3,-47 3,-47 4.8,-44 Z" fill="#3a62b8" stroke="#2e56a8" stroke-width="1.4" stroke-linejoin="round"/></g><g transform="rotate(240)"><line x1="0" y1="-28" x2="0" y2="-40" stroke="#2e56a8" stroke-width="2.6"/><path d="M0,-38 L-4.8,-44 C-3,-47 3,-47 4.8,-44 Z" fill="#3a62b8" stroke="#2e56a8" stroke-width="1.4" stroke-linejoin="round"/></g><g transform="rotate(270)"><line x1="0" y1="-28" x2="0" y2="-40" stroke="#2e56a8" stroke-width="2.6"/><path d="M0,-38 L-4.8,-44 C-3,-47 3,-47 4.8,-44 Z" fill="#3a62b8" stroke="#2e56a8" stroke-width="1.4" stroke-linejoin="round"/></g><g transform="rotate(300)"><line x1="0" y1="-28" x2="0" y2="-40" stroke="#2e56a8" stroke-width="2.6"/><path d="M0,-38 L-4.8,-44 C-3,-47 3,-47 4.8,-44 Z" fill="#3a62b8" stroke="#2e56a8" stroke-width="1.4" stroke-linejoin="round"/></g><g transform="rotate(330)"><line x1="0" y1="-28" x2="0" y2="-40" stroke="#2e56a8" stroke-width="2.6"/><path d="M0,-38 L-4.8,-44 C-3,-47 3,-47 4.8,-44 Z" fill="#3a62b8" stroke="#2e56a8" stroke-width="1.4" stroke-linejoin="round"/></g><circle r="29.5" fill="#eef3fa" stroke="#7a2a48" stroke-width="3"/><circle r="29.5" fill="none" stroke="#2e56a8" stroke-width="3" stroke-dasharray="2 5"/><g transform="rotate(20)"><path d="M0,-2 C-5,-6 -17,-6 -19,-14 C-20,-21 -11,-24 -6,-20 C-2,-16 -4,-8 0,-2" fill="none" stroke="#3c70c4" stroke-width="2.8"/></g><g transform="rotate(92)"><path d="M0,-2 C-5,-6 -17,-6 -19,-14 C-20,-21 -11,-24 -6,-20 C-2,-16 -4,-8 0,-2" fill="none" stroke="#3c70c4" stroke-width="2.8"/></g><g transform="rotate(164)"><path d="M0,-2 C-5,-6 -17,-6 -19,-14 C-20,-21 -11,-24 -6,-20 C-2,-16 -4,-8 0,-2" fill="none" stroke="#3c70c4" stroke-width="2.8"/></g><g transform="rotate(236)"><path d="M0,-2 C-5,-6 -17,-6 -19,-14 C-20,-21 -11,-24 -6,-20 C-2,-16 -4,-8 0,-2" fill="none" stroke="#3c70c4" stroke-width="2.8"/></g><g transform="rotate(308)"><path d="M0,-2 C-5,-6 -17,-6 -19,-14 C-20,-21 -11,-24 -6,-20 C-2,-16 -4,-8 0,-2" fill="none" stroke="#3c70c4" stroke-width="2.8"/></g></g><g stroke="#1a1a1a" stroke-width="3.2" stroke-dasharray="14 10" fill="none"><line x1="140" y1="284" x2="140" y2="668"/><line x1="146" y1="302" x2="308" y2="612"/><line x1="465.8" y1="243" x2="312" y2="616"/><line x1="465.5" y1="243" x2="465.5" y2="725"/></g><line x1="136" y1="300" x2="136" y2="470" stroke="#c8c8de" stroke-width="1.5"/><line x1="150" y1="300" x2="240" y2="470" stroke="#c8c8de" stroke-width="1.5"/><line x1="470" y1="250" x2="472" y2="460" stroke="#c8c8de" stroke-width="1.5"/><line x1="462" y1="250" x2="400" y2="408" stroke="#c8c8de" stroke-width="1.5"/><g id="amcell"><path d="M296.6,615.0 C301.1,615.0 304.2,614.6 307.6,617.4 C311.0,620.2 313.7,626.9 317.1,631.6 C320.5,636.3 323.7,642.1 328.2,645.8 C332.7,649.5 337.7,651.6 344.0,653.7 C350.3,655.8 359.3,656.0 366.1,658.4 C372.9,660.8 378.9,663.7 385.0,667.9 C391.1,672.1 397.1,678.2 402.4,683.7 C407.7,689.2 411.9,696.4 416.6,701.1 C421.3,705.8 425.0,709.2 430.8,712.1 C436.6,715.0 446.4,715.8 451.4,718.4 C456.4,721.0 459.2,723.9 460.8,727.9 C462.4,731.9 461.9,737.1 460.8,742.1 C459.8,747.1 455.8,752.6 454.5,757.9 C453.2,763.2 451.9,768.4 453.0,773.7 C454.1,779.0 458.4,784.2 460.8,789.5 C463.2,794.8 465.8,800.0 467.1,805.3 C468.4,810.6 469.5,816.0 468.7,821.1 C467.9,826.2 465.3,829.9 462.4,835.8 C459.5,841.7 453.8,849.7 451.4,856.3 C449.0,862.9 448.5,868.2 448.2,875.3 C447.9,882.4 449.5,891.9 449.8,899.0 C450.1,906.1 451.1,912.1 449.8,917.9 C448.5,923.7 446.4,928.7 441.9,933.7 C437.4,938.7 428.7,944.2 422.9,947.9 C417.1,951.6 411.1,952.6 407.1,955.8 C403.2,959.0 401.8,962.7 399.2,966.9 C396.6,971.1 394.7,976.9 391.3,981.1 C387.9,985.3 383.9,989.2 378.7,992.1 C373.4,995.0 365.6,996.4 359.8,998.5 C354.0,1000.6 348.5,1001.9 344.0,1004.8 C339.5,1007.7 336.1,1012.6 332.9,1015.8 C329.7,1018.9 328.4,1022.4 325.0,1023.7 C321.6,1025.0 317.1,1025.0 312.4,1023.7 C307.7,1022.4 301.3,1016.8 296.6,1015.8 C291.9,1014.8 288.8,1015.0 284.0,1017.4 C279.2,1019.8 274.2,1026.8 267.6,1030.0 C261.0,1033.2 252.3,1036.7 244.5,1036.4 C236.7,1036.2 227.4,1032.2 220.8,1028.5 C214.2,1024.8 210.3,1018.0 205.0,1014.3 C199.7,1010.6 195.8,1007.2 189.2,1006.4 C182.6,1005.6 171.1,1010.8 165.6,1009.5 C160.1,1008.2 158.5,1003.5 156.1,998.5 C153.7,993.5 155.0,984.8 151.3,979.5 C147.6,974.2 140.8,970.6 134.0,966.9 C127.2,963.2 115.8,961.3 110.3,957.4 C104.8,953.5 102.4,949.2 100.8,943.2 C99.2,937.2 101.8,927.4 100.8,921.1 C99.8,914.8 99.0,911.1 94.5,905.3 C90.0,899.5 79.1,892.6 74.0,886.3 C68.9,880.0 65.3,874.5 63.7,867.4 C62.1,860.3 63.0,850.8 64.5,843.7 C66.0,836.6 70.3,830.1 72.4,825.0 C74.5,819.9 75.3,817.8 77.1,813.2 C78.9,808.6 82.6,802.7 83.4,797.4 C84.2,792.1 83.4,786.6 81.8,781.6 C80.2,776.6 75.4,771.9 74.0,767.4 C72.6,762.9 72.4,758.5 73.2,754.8 C74.0,751.1 75.7,748.7 78.7,745.3 C81.7,741.9 88.2,738.4 91.3,734.2 C94.4,730.0 95.8,725.5 97.6,720.0 C99.4,714.5 100.3,706.4 102.4,701.1 C104.5,695.8 106.3,692.1 110.3,688.4 C114.2,684.7 119.5,682.1 126.1,679.0 C132.7,675.9 143.2,673.2 149.8,669.5 C156.4,665.8 160.3,660.9 165.6,656.9 C170.8,652.9 176.1,649.1 181.3,645.8 C186.6,642.5 191.8,639.0 197.1,637.1 C202.4,635.2 205.0,635.5 212.9,634.7 C220.8,633.9 236.6,633.6 244.5,632.4 C252.4,631.2 255.2,629.6 260.3,627.6 C265.4,625.6 271.6,622.2 275.0,620.5 C278.4,618.8 277.2,618.3 280.8,617.4 C284.4,616.5 292.1,615.0 296.6,615.0Z" fill="#d0cfea" stroke="#8b83c8" stroke-width="6"/><circle cx="136.6" cy="724" r="12" fill="#e6e6f4" stroke="#c8c7e6" stroke-width="2.5"/><circle cx="320.5" cy="743" r="7" fill="#e6e6f4" stroke="#c8c7e6" stroke-width="2.5"/><circle cx="372" cy="741" r="14" fill="#e6e6f4" stroke="#c8c7e6" stroke-width="2.5"/><circle cx="409.5" cy="843.7" r="11" fill="#e6e6f4" stroke="#c8c7e6" stroke-width="2.5"/><circle cx="181.4" cy="815" r="7" fill="#e6e6f4" stroke="#c8c7e6" stroke-width="2.5"/><circle cx="314" cy="963.7" r="9" fill="#e6e6f4" stroke="#c8c7e6" stroke-width="2.5"/><circle cx="134" cy="880" r="8" fill="#e6e6f4" stroke="#c8c7e6" stroke-width="2.5"/><circle cx="208" cy="721" r="6.5" fill="#bcbae2"/><circle cx="165" cy="693" r="5" fill="#bcbae2"/><circle cx="402.4" cy="894.2" r="6" fill="#bcbae2"/><circle cx="434.8" cy="821.6" r="5" fill="#bcbae2"/><circle cx="236" cy="659" r="3.5" fill="#bcbae2"/><circle cx="331" cy="720" r="3" fill="#bcbae2"/><circle cx="244" cy="752" r="3" fill="#bcbae2"/><circle cx="103" cy="758" r="3.5" fill="#bcbae2"/><circle cx="194" cy="883" r="3.5" fill="#bcbae2"/><circle cx="295.8" cy="850.4" r="89" fill="#aba9da" stroke="#9592cf" stroke-width="3.5"/><g transform="translate(152.5,794.5) rotate(-69)"><rect x="-83.0" y="-36.0" width="166.0" height="72.0" rx="36.0" fill="#d99a8b" stroke="#6e3a32" stroke-width="1.4"/><path d="M-47.0,27.5 A27.5,27.5 0 0 1 -47.0,-27.5 L-38.5,-27.5 L-38.5,6.2 A3.75,3.75 0 0 0 -31.0,6.2 L-31.0,-27.5 L-15.4,-27.5 L-15.4,6.2 A3.75,3.75 0 0 0 -7.9,6.2 L-7.9,-27.5 L7.9,-27.5 L7.9,6.2 A3.75,3.75 0 0 0 15.4,6.2 L15.4,-27.5 L31.1,-27.5 L31.1,6.2 A3.75,3.75 0 0 0 38.6,6.2 L38.6,-27.5 L47.0,-27.5 A27.5,27.5 0 0 1 47.0,27.5 L50.2,27.5 L50.2,-6.2 A3.75,3.75 0 0 0 42.7,-6.2 L42.7,27.5 L27.0,27.5 L27.0,-6.2 A3.75,3.75 0 0 0 19.5,-6.2 L19.5,27.5 L3.8,27.5 L3.8,-6.2 A3.75,3.75 0 0 0 -3.8,-6.2 L-3.8,27.5 L-19.5,27.5 L-19.5,-6.2 A3.75,3.75 0 0 0 -27.0,-6.2 L-27.0,27.5 L-42.6,27.5 L-42.6,-6.2 A3.75,3.75 0 0 0 -50.1,-6.2 L-50.1,27.5Z" fill="#e4e3f3" stroke="#6e3a32" stroke-width="1.2" stroke-linejoin="round"/></g><g transform="translate(294.2,688.4) rotate(0)"><circle r="38.0" fill="#f1c23e" stroke="#e2a83a" stroke-width="1.2"/><circle r="31.2" fill="#fcf0c4" stroke="#e0a640" stroke-width="1.2"/><path d="M-2.0,-19.0 C0.8,-18.5 19.2,-10.7 21.0,-8.0 C22.8,-5.3 22.2,10.8 20.0,13.0 C17.8,15.2 -1.8,19.3 -5.0,18.0 C-8.2,16.7 -17.3,-0.3 -18.0,-3.0 C-18.7,-5.7 -14.3,-12.7 -13.0,-14.0 C-11.7,-15.3 -4.8,-19.5 -2.0,-19.0Z" fill="#efc447" stroke="#d9a03a" stroke-width="1.2"/></g><g transform="translate(403.2,767.4) rotate(0)"><circle r="38.0" fill="#f1c23e" stroke="#e2a83a" stroke-width="1.2"/><circle r="31.2" fill="#fcf0c4" stroke="#e0a640" stroke-width="1.2"/><path d="M-2.0,-19.0 C0.8,-18.5 19.2,-10.7 21.0,-8.0 C22.8,-5.3 22.2,10.8 20.0,13.0 C17.8,15.2 -1.8,19.3 -5.0,18.0 C-8.2,16.7 -17.3,-0.3 -18.0,-3.0 C-18.7,-5.7 -14.3,-12.7 -13.0,-14.0 C-11.7,-15.3 -4.8,-19.5 -2.0,-19.0Z" fill="#efc447" stroke="#d9a03a" stroke-width="1.2"/></g><g transform="translate(190.8,921.1) rotate(0)"><circle r="38.0" fill="#f1c23e" stroke="#e2a83a" stroke-width="1.2"/><circle r="31.2" fill="#fcf0c4" stroke="#e0a640" stroke-width="1.2"/><path d="M-2.0,-19.0 C0.8,-18.5 19.2,-10.7 21.0,-8.0 C22.8,-5.3 22.2,10.8 20.0,13.0 C17.8,15.2 -1.8,19.3 -5.0,18.0 C-8.2,16.7 -17.3,-0.3 -18.0,-3.0 C-18.7,-5.7 -14.3,-12.7 -13.0,-14.0 C-11.7,-15.3 -4.8,-19.5 -2.0,-19.0Z" fill="#efc447" stroke="#d9a03a" stroke-width="1.2"/></g><g transform="translate(263.8,975.8) rotate(0)"><circle r="38.0" fill="#f1c23e" stroke="#e2a83a" stroke-width="1.2"/><circle r="31.2" fill="#fcf0c4" stroke="#e0a640" stroke-width="1.2"/><path d="M-2.0,-19.0 C0.8,-18.5 19.2,-10.7 21.0,-8.0 C22.8,-5.3 22.2,10.8 20.0,13.0 C17.8,15.2 -1.8,19.3 -5.0,18.0 C-8.2,16.7 -17.3,-0.3 -18.0,-3.0 C-18.7,-5.7 -14.3,-12.7 -13.0,-14.0 C-11.7,-15.3 -4.8,-19.5 -2.0,-19.0Z" fill="#efc447" stroke="#d9a03a" stroke-width="1.2"/></g><g transform="translate(354.2,951.9) rotate(0)"><circle r="38.0" fill="#f1c23e" stroke="#e2a83a" stroke-width="1.2"/><circle r="31.2" fill="#fcf0c4" stroke="#e0a640" stroke-width="1.2"/><path d="M-2.0,-19.0 C0.8,-18.5 19.2,-10.7 21.0,-8.0 C22.8,-5.3 22.2,10.8 20.0,13.0 C17.8,15.2 -1.8,19.3 -5.0,18.0 C-8.2,16.7 -17.3,-0.3 -18.0,-3.0 C-18.7,-5.7 -14.3,-12.7 -13.0,-14.0 C-11.7,-15.3 -4.8,-19.5 -2.0,-19.0Z" fill="#efc447" stroke="#d9a03a" stroke-width="1.2"/></g></g><use href="#amcell" transform="translate(721.5,336)"/><g id="redcell"><path d="M792.7,424.0 C783.6,423.5 768.9,425.3 763.6,424.2 C758.2,423.2 757.3,419.4 757.0,417.0 C756.7,414.6 756.6,410.7 761.5,408.3 C766.4,405.9 781.8,403.8 789.7,401.0 C797.6,398.2 810.2,393.2 814.4,389.8 C818.5,386.3 819.9,384.7 817.6,378.2 C815.4,371.8 804.4,353.2 799.4,346.8 C794.4,340.4 787.0,338.8 784.6,335.6 C782.1,332.5 782.0,328.2 783.0,326.0 C784.0,323.8 787.5,321.2 791.5,321.2 C795.5,321.2 804.3,327.4 809.5,325.9 C814.7,324.4 823.0,315.2 826.4,311.4 C829.7,307.6 832.8,304.5 831.6,300.6 C830.5,296.8 821.5,289.8 818.5,285.8 C815.4,281.7 812.0,276.5 811.2,273.4 C810.4,270.2 811.5,266.4 813.0,265.0 C814.5,263.6 818.4,262.8 821.5,263.8 C824.5,264.8 830.4,269.5 833.3,271.9 C836.3,274.3 838.6,279.6 841.3,279.7 C843.9,279.7 849.1,276.7 850.7,272.3 C852.4,268.0 852.0,255.6 852.1,250.6 C852.3,245.6 850.8,242.0 851.5,239.1 C852.3,236.2 854.8,231.9 857.0,231.0 C859.2,230.1 864.0,231.7 866.5,233.4 C869.0,235.0 871.0,240.4 873.8,242.3 C876.5,244.2 882.9,247.1 884.9,245.9 C886.9,244.7 887.2,241.8 887.1,234.1 C887.0,226.4 887.1,206.0 884.3,194.6 C881.4,183.1 870.0,164.3 868.1,157.6 C866.3,150.9 870.1,151.0 872.0,150.0 C873.9,149.0 876.0,145.8 880.5,151.0 C885.0,156.3 894.1,176.1 902.2,185.0 C910.3,194.0 927.6,206.4 934.2,210.6 C940.7,214.9 941.9,215.4 945.8,213.4 C949.8,211.4 958.3,202.6 960.3,197.3 C962.3,192.0 958.5,182.1 959.2,178.3 C960.0,174.5 963.0,172.5 965.0,172.0 C967.0,171.5 970.6,172.1 972.9,175.2 C975.2,178.4 975.6,187.0 980.1,192.9 C984.6,198.8 997.8,211.2 1003.0,214.6 C1008.3,217.9 1011.1,218.0 1015.0,215.4 C1018.9,212.9 1025.5,202.7 1029.0,197.4 C1032.4,192.2 1035.3,183.4 1037.8,180.5 C1040.4,177.6 1044.0,177.3 1046.0,178.0 C1048.0,178.7 1050.8,181.0 1051.1,184.8 C1051.5,188.7 1048.4,198.1 1048.3,203.7 C1048.1,209.4 1048.1,219.4 1050.2,222.7 C1052.2,225.9 1057.0,226.1 1061.8,225.3 C1066.7,224.6 1078.7,222.7 1082.5,217.9 C1086.2,213.2 1085.0,197.9 1086.8,193.6 C1088.5,189.2 1091.9,188.9 1094.0,189.0 C1096.1,189.1 1099.4,189.7 1100.8,194.2 C1102.1,198.7 1099.7,209.1 1102.7,218.9 C1105.8,228.7 1116.8,252.5 1121.0,259.6 C1125.3,266.7 1127.7,267.5 1131.0,266.4 C1134.2,265.3 1138.1,256.2 1142.5,252.1 C1146.9,248.0 1156.3,241.0 1160.4,239.3 C1164.5,237.6 1168.3,239.3 1170.0,241.0 C1171.7,242.7 1173.4,246.5 1171.7,250.6 C1170.0,254.7 1163.9,263.2 1158.9,268.5 C1154.0,273.8 1141.1,281.7 1139.0,285.8 C1136.9,290.0 1139.0,293.6 1145.0,296.2 C1151.0,298.8 1170.1,302.0 1178.8,303.0 C1187.6,304.0 1198.6,301.9 1203.3,302.9 C1207.9,304.0 1209.6,307.6 1210.0,310.0 C1210.4,312.4 1209.8,316.4 1205.7,318.7 C1201.5,321.1 1188.0,322.7 1182.3,325.9 C1176.7,329.1 1170.4,332.9 1168.0,340.0 C1165.6,347.1 1165.4,361.3 1166.0,373.0 C1166.6,384.7 1168.8,409.2 1172.0,418.0 C1175.2,426.8 1181.9,428.3 1187.4,431.9 C1193.0,435.4 1205.1,438.9 1208.8,441.8 C1212.5,444.6 1212.7,448.7 1212.0,451.0 C1211.3,453.3 1209.1,456.7 1204.4,457.1 C1199.8,457.6 1189.0,454.5 1181.0,454.2 C1173.0,453.9 1155.7,451.7 1151.0,455.0 C1146.3,458.3 1149.5,470.6 1150.0,476.0 C1150.5,481.4 1152.0,487.0 1154.4,491.0 C1156.8,495.1 1164.1,499.9 1165.9,503.2 C1167.6,506.5 1167.4,511.0 1166.0,513.0 C1164.6,515.0 1160.6,516.9 1156.9,516.5 C1153.2,516.0 1147.4,511.9 1141.3,510.2 C1135.2,508.5 1120.4,502.3 1116.0,505.0 C1111.6,507.7 1109.0,520.9 1112.0,528.0 C1115.0,535.1 1128.9,544.3 1136.0,552.0 C1143.2,559.7 1156.2,573.8 1159.5,579.3 C1162.8,584.9 1159.7,587.3 1158.0,589.0 C1156.3,590.7 1154.1,594.0 1148.4,590.9 C1142.7,587.9 1128.0,575.5 1120.0,568.8 C1112.0,562.1 1102.4,549.6 1095.0,546.0 C1087.6,542.4 1077.9,543.5 1071.0,545.0 C1064.1,546.5 1052.8,551.2 1049.0,556.0 C1045.2,560.8 1046.8,571.9 1045.7,576.7 C1044.5,581.5 1043.2,585.5 1041.3,587.9 C1039.4,590.4 1035.4,593.2 1033.0,593.0 C1030.6,592.8 1026.9,589.6 1025.4,586.9 C1023.8,584.2 1023.2,578.0 1022.5,575.2 C1021.9,572.4 1025.1,569.8 1021.0,568.0 C1016.9,566.2 1002.5,563.3 995.0,563.0 C987.5,562.7 975.4,563.4 971.0,566.0 C966.6,568.6 967.5,576.4 966.0,580.6 C964.4,584.9 962.7,591.7 960.6,594.4 C958.5,597.2 954.4,599.3 952.0,599.0 C949.6,598.7 946.1,595.6 944.8,592.5 C943.4,589.3 943.4,582.6 943.0,577.8 C942.6,572.9 947.5,565.1 942.0,560.0 C936.5,554.9 916.7,543.0 906.0,544.0 C895.3,545.0 880.1,561.5 870.5,567.0 C860.9,572.5 847.6,579.3 842.0,580.8 C836.4,582.3 834.3,579.0 833.0,577.0 C831.7,575.0 829.7,571.7 833.5,567.2 C837.2,562.8 852.0,551.8 858.1,547.4 C864.1,543.0 871.2,541.2 873.7,538.0 C876.1,534.8 877.6,527.5 874.3,526.0 C871.1,524.6 856.8,528.2 852.1,528.3 C847.4,528.4 845.6,527.8 843.2,526.6 C840.8,525.3 836.5,522.3 836.0,520.0 C835.5,517.7 838.1,513.1 839.7,511.0 C841.4,508.8 845.9,506.9 847.0,505.7 C848.1,504.5 848.4,508.5 847.0,503.0 C845.6,497.5 843.1,473.1 838.0,469.0 C832.9,464.9 819.7,475.0 813.3,476.0 C806.8,477.0 798.8,476.9 795.0,475.8 C791.2,474.8 788.4,471.4 788.0,469.0 C787.6,466.6 788.9,462.5 792.0,460.1 C795.1,457.7 804.4,454.3 808.9,453.2 C813.4,452.1 819.7,456.8 822.0,453.0 C824.3,449.2 828.4,432.3 824.0,428.0 C819.6,423.7 801.8,424.6 792.7,424.0Z" fill="#f19496" stroke="#c1434b" stroke-width="5" stroke-linejoin="round"/><circle cx="1002" cy="246" r="13" fill="#f7c0c2" stroke="#ec9fa3" stroke-width="2"/><circle cx="1068" cy="293" r="16" fill="#f7c0c2" stroke="#ec9fa3" stroke-width="2"/><circle cx="856" cy="298" r="12" fill="#f7c0c2" stroke="#ec9fa3" stroke-width="2"/><circle cx="1004" cy="298" r="6" fill="#f7c0c2" stroke="#ec9fa3" stroke-width="2"/><circle cx="1108" cy="394" r="10" fill="#f7c0c2" stroke="#ec9fa3" stroke-width="2"/><circle cx="841" cy="406" r="12" fill="#f7c0c2" stroke="#ec9fa3" stroke-width="2"/><circle cx="876" cy="259.5" r="6" fill="#e47a80"/><circle cx="910" cy="283" r="7" fill="#e47a80"/><circle cx="970" cy="266" r="7" fill="#e47a80"/><circle cx="942" cy="230" r="4" fill="#e47a80"/><circle cx="1033" cy="236" r="4" fill="#e47a80"/><circle cx="1090" cy="448" r="7" fill="#e47a80"/><circle cx="875" cy="505" r="6" fill="#e47a80"/><circle cx="992" cy="551" r="6" fill="#e47a80"/><circle cx="1100" cy="271" r="4" fill="#e47a80"/><circle cx="1003" cy="403" r="90" fill="#d5575d" stroke="#bf474e" stroke-width="2.5"/><path d="M907.0,503.0 C907.8,495.7 908.7,484.2 915.0,478.0 C921.3,471.8 935.0,468.5 945.0,466.0 C955.0,463.5 962.5,463.7 975.0,463.0 C987.5,462.3 1005.8,462.3 1020.0,462.0 C1034.2,461.7 1049.2,459.3 1060.0,461.0 C1070.8,462.7 1078.8,466.0 1085.0,472.0 C1091.2,478.0 1095.7,488.7 1097.0,497.0 C1098.3,505.3 1096.5,514.5 1093.0,522.0 C1089.5,529.5 1083.2,538.0 1076.0,542.0 C1068.8,546.0 1058.3,547.3 1050.0,546.0 C1041.7,544.7 1034.3,536.7 1026.0,534.0 C1017.7,531.3 1008.5,528.7 1000.0,530.0 C991.5,531.3 983.3,539.3 975.0,542.0 C966.7,544.7 958.3,546.7 950.0,546.0 C941.7,545.3 931.7,542.0 925.0,538.0 C918.3,534.0 913.0,527.8 910.0,522.0 C907.0,516.2 906.2,510.3 907.0,503.0Z" fill="#c9c9c9" stroke="#9a9a9a" stroke-width="2"/><path d="M918.0,503.0 C918.8,497.2 919.7,487.8 925.0,483.0 C930.3,478.2 940.0,476.0 950.0,474.0 C960.0,472.0 972.5,471.7 985.0,471.0 C997.5,470.3 1012.8,470.2 1025.0,470.0 C1037.2,469.8 1048.8,468.3 1058.0,470.0 C1067.2,471.7 1075.0,475.0 1080.0,480.0 C1085.0,485.0 1087.5,493.3 1088.0,500.0 C1088.5,506.7 1086.3,514.5 1083.0,520.0 C1079.7,525.5 1073.5,530.3 1068.0,533.0 C1062.5,535.7 1057.0,537.5 1050.0,536.0 C1043.0,534.5 1034.3,526.7 1026.0,524.0 C1017.7,521.3 1008.5,518.7 1000.0,520.0 C991.5,521.3 983.3,529.3 975.0,532.0 C966.7,534.7 957.5,536.3 950.0,536.0 C942.5,535.7 935.0,533.0 930.0,530.0 C925.0,527.0 922.0,522.5 920.0,518.0 C918.0,513.5 917.2,508.8 918.0,503.0Z" fill="#ececec" stroke="#a8a8a8" stroke-width="1.2"/><line x1="930" y1="490" x2="945" y2="505" stroke="#c2c2c2" stroke-width="5" stroke-linecap="round"/><line x1="950" y1="475" x2="955" y2="492" stroke="#c2c2c2" stroke-width="5" stroke-linecap="round"/><line x1="965" y1="533" x2="968" y2="514" stroke="#c2c2c2" stroke-width="5" stroke-linecap="round"/><line x1="990" y1="470" x2="992" y2="488" stroke="#c2c2c2" stroke-width="5" stroke-linecap="round"/><line x1="1040" y1="470" x2="1040" y2="490" stroke="#c2c2c2" stroke-width="5" stroke-linecap="round"/><line x1="1060" y1="475" x2="1058" y2="492" stroke="#c2c2c2" stroke-width="5" stroke-linecap="round"/><line x1="1078" y1="490" x2="1070" y2="500" stroke="#c2c2c2" stroke-width="5" stroke-linecap="round"/><line x1="1053" y1="530" x2="1055" y2="512" stroke="#c2c2c2" stroke-width="5" stroke-linecap="round"/><line x1="1075" y1="515" x2="1068" y2="505" stroke="#c2c2c2" stroke-width="5" stroke-linecap="round"/><line x1="1030" y1="522" x2="1028" y2="505" stroke="#c2c2c2" stroke-width="5" stroke-linecap="round"/><line x1="940" y1="530" x2="945" y2="515" stroke="#c2c2c2" stroke-width="5" stroke-linecap="round"/><path d="M1005.5,445.2 L1009.7,474.6 L1032.8,455.9 L1020.4,482.9 L1050.0,479.6 L1025.0,495.7 L1051.6,508.9 L1021.9,508.8 L1037.2,534.3 L1012.2,518.2 L1011.2,548.0 L998.9,520.9 L982.1,545.4 L986.3,516.0 L958.9,527.5 L978.4,505.0 L949.1,499.9 L977.6,491.5 L955.8,471.4 L984.3,479.8 L976.8,451.0 L996.3,473.5Z" fill="#d8474e" stroke="#8c1e26" stroke-width="2" stroke-linejoin="miter"/><text x="974" y="510.5" font-family="Liberation Sans" font-weight="bold" font-size="27" fill="#ffffff" textLength="57" lengthAdjust="spacingAndGlyphs">ROS</text></g><g transform="translate(872,359) scale(1.0)"><circle cx="0" cy="0" r="38" fill="#f4f7fa"/><g transform="translate(-10.3,3.4) rotate(0)"><circle r="27.0" fill="#f1c23e" stroke="#e2a83a" stroke-width="0.9"/><circle r="22.1" fill="#fcf0c4" stroke="#e0a640" stroke-width="0.9"/><path d="M-1.4,-13.5 C0.6,-13.1 13.6,-7.6 14.9,-5.7 C16.2,-3.8 15.7,7.7 14.2,9.2 C12.7,10.8 -1.3,13.7 -3.6,12.8 C-5.8,11.8 -12.3,-0.2 -12.8,-2.1 C-13.3,-4.0 -10.2,-9.0 -9.2,-9.9 C-8.3,-10.9 -3.4,-13.9 -1.4,-13.5Z" fill="#efc447" stroke="#d9a03a" stroke-width="0.9"/></g><g transform="translate(8.5,4) rotate(0)"><circle r="27.0" fill="#f1c23e" stroke="#e2a83a" stroke-width="0.9"/><circle r="22.1" fill="#fcf0c4" stroke="#e0a640" stroke-width="0.9"/><path d="M-1.4,-13.5 C0.6,-13.1 13.6,-7.6 14.9,-5.7 C16.2,-3.8 15.7,7.7 14.2,9.2 C12.7,10.8 -1.3,13.7 -3.6,12.8 C-5.8,11.8 -12.3,-0.2 -12.8,-2.1 C-13.3,-4.0 -10.2,-9.0 -9.2,-9.9 C-8.3,-10.9 -3.4,-13.9 -1.4,-13.5Z" fill="#efc447" stroke="#d9a03a" stroke-width="0.9"/></g><path d="M-15,-38 C-42,-29 -54,-9 -51,11 C-48,36 -27,46 -12,45 C3,45 16,41 24,36" fill="none" stroke="#8fa2cf" stroke-width="9" stroke-linecap="round"/><path d="M-15,-38 C-42,-29 -54,-9 -51,11 C-48,36 -27,46 -12,45 C3,45 16,41 24,36" fill="none" stroke="#c3cfea" stroke-width="6.5" stroke-linecap="round"/><path d="M-15,-38 C-42,-29 -54,-9 -51,11 C-48,36 -27,46 -12,45 C3,45 16,41 24,36" fill="none" stroke="#f4f7fc" stroke-width="2.2" stroke-linecap="round"/></g><g transform="translate(1130,355) scale(1.05)"><line x1="-4.8" y1="-29.6" x2="-10.7" y2="-65.5" stroke="#2f5fa0" stroke-width="3.6" stroke-dasharray="2.6 1.1"/><rect x="-2.3" y="-47.0" width="6" height="10" rx="2" fill="#b98ad0" transform="rotate(-10 0.7 -42.0)"/><line x1="11.1" y1="-27.9" x2="25.0" y2="-62.9" stroke="#2f5fa0" stroke-width="3.6" stroke-dasharray="2.6 1.1"/><rect x="19.2" y="-40.6" width="6" height="10" rx="2" fill="#b98ad0" transform="rotate(20 22.2 -35.6)"/><line x1="22.3" y1="-20.1" x2="52.3" y2="-47.0" stroke="#2f5fa0" stroke-width="3.6" stroke-dasharray="2.6 1.1"/><rect x="32.8" y="-27.0" width="6" height="10" rx="2" fill="#b98ad0" transform="rotate(55 35.8 -22.0)"/><line x1="30.0" y1="0.2" x2="64.1" y2="0.4" stroke="#2f5fa0" stroke-width="3.6" stroke-dasharray="2.6 1.1"/><rect x="38.3" y="2.8" width="6" height="10" rx="2" fill="#b98ad0" transform="rotate(85 41.3 7.8)"/><line x1="28.1" y1="10.6" x2="62.3" y2="23.6" stroke="#2f5fa0" stroke-width="3.6" stroke-dasharray="2.6 1.1"/><rect x="33.0" y="16.7" width="6" height="10" rx="2" fill="#b98ad0" transform="rotate(115 36.0 21.7)"/><line x1="17.4" y1="24.4" x2="42.9" y2="60.2" stroke="#2f5fa0" stroke-width="3.6" stroke-dasharray="2.6 1.1"/><rect x="14.9" y="33.0" width="6" height="10" rx="2" fill="#b98ad0" transform="rotate(145 17.9 38.0)"/><line x1="5.4" y1="29.5" x2="13.0" y2="71.2" stroke="#2f5fa0" stroke-width="3.6" stroke-dasharray="2.6 1.1"/><rect x="-3.0" y="37.0" width="6" height="10" rx="2" fill="#b98ad0" transform="rotate(170 0.0 42.0)"/><line x1="-7.5" y1="29.1" x2="-17.5" y2="68.2" stroke="#2f5fa0" stroke-width="3.6" stroke-dasharray="2.6 1.1"/><rect x="-20.6" y="33.2" width="6" height="10" rx="2" fill="#b98ad0" transform="rotate(200 -17.6 38.2)"/><line x1="-24.8" y1="16.8" x2="-58.2" y2="39.5" stroke="#2f5fa0" stroke-width="3.6" stroke-dasharray="2.6 1.1"/><rect x="-41.4" y="11.9" width="6" height="10" rx="2" fill="#b98ad0" transform="rotate(230 -38.4 16.9)"/><line x1="-29.8" y1="3.2" x2="-68.8" y2="7.4" stroke="#2f5fa0" stroke-width="3.6" stroke-dasharray="2.6 1.1"/><rect x="-44.9" y="-8.1" width="6" height="10" rx="2" fill="#b98ad0" transform="rotate(260 -41.9 -3.1)"/><line x1="-29.2" y1="-6.8" x2="-68.9" y2="-15.9" stroke="#2f5fa0" stroke-width="3.6" stroke-dasharray="2.6 1.1"/><rect x="-41.6" y="-21.6" width="6" height="10" rx="2" fill="#b98ad0" transform="rotate(290 -38.6 -16.6)"/><line x1="-18.7" y1="-23.5" x2="-44.6" y2="-56.0" stroke="#2f5fa0" stroke-width="3.6" stroke-dasharray="2.6 1.1"/><rect x="-22.9" y="-42.0" width="6" height="10" rx="2" fill="#b98ad0" transform="rotate(320 -19.9 -37.0)"/><path d="M0.0,-31.0 L9.2,-25.4 L19.9,-23.7 L23.4,-13.5 L30.5,-5.4 L26.6,4.7 L26.8,15.5 L17.4,20.7 L10.6,29.1 L0.0,27.0 L-10.6,29.1 L-17.4,20.7 L-26.8,15.5 L-26.6,4.7 L-30.5,-5.4 L-23.4,-13.5 L-19.9,-23.7 L-9.2,-25.4Z" fill="none" stroke="#e0507a" stroke-width="3"/><circle r="22" fill="#f4f0f4" stroke="#1f8a78" stroke-width="6.5" stroke-dasharray="3.2 1.4"/><circle r="14" fill="#f8f6fb" stroke="#2f5fa0" stroke-width="2.2"/><line x1="0" y1="0" x2="11.0" y2="0.0" stroke="#6a55b8" stroke-width="2.4"/><line x1="0" y1="0" x2="9.5" y2="5.5" stroke="#6a55b8" stroke-width="2.4"/><line x1="0" y1="0" x2="5.5" y2="9.5" stroke="#6a55b8" stroke-width="2.4"/><line x1="0" y1="0" x2="0.0" y2="11.0" stroke="#6a55b8" stroke-width="2.4"/><line x1="0" y1="0" x2="-5.5" y2="9.5" stroke="#6a55b8" stroke-width="2.4"/><line x1="0" y1="0" x2="-9.5" y2="5.5" stroke="#6a55b8" stroke-width="2.4"/><line x1="0" y1="0" x2="-11.0" y2="0.0" stroke="#6a55b8" stroke-width="2.4"/><line x1="0" y1="0" x2="-9.5" y2="-5.5" stroke="#6a55b8" stroke-width="2.4"/><line x1="0" y1="0" x2="-5.5" y2="-9.5" stroke="#6a55b8" stroke-width="2.4"/><line x1="0" y1="0" x2="-0.0" y2="-11.0" stroke="#6a55b8" stroke-width="2.4"/><line x1="0" y1="0" x2="5.5" y2="-9.5" stroke="#6a55b8" stroke-width="2.4"/><line x1="0" y1="0" x2="9.5" y2="-5.5" stroke="#6a55b8" stroke-width="2.4"/></g><line x1="882" y1="413" x2="904.1" y2="467.5" stroke="url(#sa1)" stroke-width="7"/><path d="M912,487 L894.5,470.4 L913.0,462.9Z" fill="#1a1a1a"/><line x1="1090" y1="484" x2="1109.9" y2="436.4" stroke="url(#sa2)" stroke-width="7"/><path d="M1118,417 L1118.7,441.2 L1100.3,433.4Z" fill="#1a1a1a"/><g fill="none" stroke="#b02a38" stroke-width="3.2"><ellipse cx="1242" cy="172" rx="112" ry="22" transform="rotate(2 1242 172)"/><ellipse cx="1244" cy="199" rx="94" ry="19" transform="rotate(4 1244 199)"/><ellipse cx="1231" cy="236" rx="58" ry="13" transform="rotate(5 1231 236)"/><ellipse cx="1218" cy="261" rx="36" ry="11" transform="rotate(3 1218 261)"/><ellipse cx="1209" cy="283" rx="22" ry="8" transform="rotate(5 1209 283)"/><ellipse cx="1172" cy="300" rx="7" ry="14"/><ellipse cx="1184" cy="297" rx="7" ry="14"/><ellipse cx="1196" cy="300" rx="6" ry="12"/><path d="M1152,318 C1160,300 1168,292 1176,288"/></g><circle cx="1136" cy="177.6" r="5" fill="#d94f4f" stroke="#a02030" stroke-width="0.8"/><circle cx="1186.4" cy="156.7" r="5" fill="#d94f4f" stroke="#a02030" stroke-width="0.8"/><circle cx="1254.9" cy="152.4" r="5" fill="#d94f4f" stroke="#a02030" stroke-width="0.8"/><circle cx="1317.6" cy="158.8" r="7.5" fill="#f08a30" stroke="#a02030" stroke-width="0.8"/><circle cx="1350.8" cy="183.4" r="5" fill="#d94f4f" stroke="#a02030" stroke-width="0.8"/><circle cx="1225.4" cy="178.3" r="6" fill="#d94f4f" stroke="#a02030" stroke-width="0.8"/><circle cx="1283" cy="179.7" r="4" fill="#f49a3a" stroke="#a02030" stroke-width="0.8"/><circle cx="1333.5" cy="197.8" r="5.5" fill="#f08a30" stroke="#a02030" stroke-width="0.8"/><circle cx="1179.2" cy="206.4" r="7.5" fill="#d94f7f" stroke="#a02030" stroke-width="0.8"/><circle cx="1213.1" cy="212.9" r="3" fill="#1f70b0" stroke="#a02030" stroke-width="0.8"/><circle cx="1260.7" cy="215.1" r="5" fill="#d94f4f" stroke="#a02030" stroke-width="0.8"/><circle cx="1293.1" cy="216.5" r="3.5" fill="#1f70b0" stroke="#a02030" stroke-width="0.8"/><circle cx="1239.8" cy="228.8" r="7.5" fill="#f08a30" stroke="#a02030" stroke-width="0.8"/><circle cx="1207.3" cy="236.7" r="6" fill="#d94f4f" stroke="#a02030" stroke-width="0.8"/><circle cx="1273" cy="241" r="5.5" fill="#d94f4f" stroke="#a02030" stroke-width="0.8"/><circle cx="1186.4" cy="240.3" r="4" fill="#e0609a" stroke="#a02030" stroke-width="0.8"/><circle cx="1239" cy="255.5" r="5" fill="#f08a30" stroke="#a02030" stroke-width="0.8"/><circle cx="1198" cy="265.5" r="4" fill="#1f70b0" stroke="#a02030" stroke-width="0.8"/><circle cx="1212.4" cy="277.8" r="3.5" fill="#f08a30" stroke="#a02030" stroke-width="0.8"/><circle cx="1221.8" cy="290.8" r="3" fill="#d94f4f" stroke="#a02030" stroke-width="0.8"/><circle cx="1185" cy="283.6" r="4" fill="#1f9a8a" stroke="#a02030" stroke-width="0.8"/><circle cx="1166.2" cy="297.3" r="4" fill="#1f9a8a" stroke="#a02030" stroke-width="0.8"/><circle cx="1190.7" cy="299.4" r="3" fill="#1f70b0" stroke="#a02030" stroke-width="0.8"/><circle cx="1157.6" cy="312.4" r="3.5" fill="#1f70b0" stroke="#a02030" stroke-width="0.8"/><circle cx="1168.4" cy="318.9" r="3.5" fill="#1f9a8a" stroke="#a02030" stroke-width="0.8"/><circle cx="1286.9" cy="318.7" r="19.3" fill="#a61e44" stroke="#6a0f27" stroke-width="2"/><circle cx="1290.4" cy="319.1" r="15.4" fill="#c42c55"/><circle cx="1295.6" cy="321.6" r="3.5" fill="#e77f9c"/><circle cx="1317.2" cy="366.5" r="19.3" fill="#a61e44" stroke="#6a0f27" stroke-width="2"/><circle cx="1320.7" cy="366.9" r="15.4" fill="#c42c55"/><circle cx="1325.9" cy="369.4" r="3.5" fill="#e77f9c"/><circle cx="1371.8" cy="342" r="19.3" fill="#a61e44" stroke="#6a0f27" stroke-width="2"/><circle cx="1375.3" cy="342.4" r="15.4" fill="#c42c55"/><circle cx="1380.5" cy="344.9" r="3.5" fill="#e77f9c"/><circle cx="1424.1" cy="362.4" r="19.3" fill="#a61e44" stroke="#6a0f27" stroke-width="2"/><circle cx="1427.6" cy="362.8" r="15.4" fill="#c42c55"/><circle cx="1432.8" cy="365.3" r="3.5" fill="#e77f9c"/><circle cx="622.6" cy="687.8" r="21" fill="#d9525a" stroke="#c0303a" stroke-width="2"/><circle cx="624.3" cy="686.5" r="17.6" fill="#e6666d"/><circle cx="621.6" cy="697.2" r="4.2" fill="#f0a5a8"/><circle cx="564.9" cy="722" r="21" fill="#d9525a" stroke="#c0303a" stroke-width="2"/><circle cx="566.6" cy="720.7" r="17.6" fill="#e6666d"/><circle cx="563.9" cy="731.5" r="4.2" fill="#f0a5a8"/><circle cx="612.9" cy="749.6" r="21" fill="#e8838a" stroke="#d5646b" stroke-width="2"/><circle cx="614.6" cy="748.3" r="17.6" fill="#ee9499"/><circle cx="611.9" cy="759.1" r="4.2" fill="#f6c4c6"/><g transform="translate(0,0)"><path d="M1530.0,80.0 C1530.8,66.7 1532.3,66.3 1536.0,60.0 C1539.7,53.7 1546.3,47.2 1552.0,42.0 C1557.7,36.8 1560.0,33.5 1570.0,29.0 C1580.0,24.5 1597.8,18.3 1612.0,15.0 C1626.2,11.7 1641.0,10.3 1655.0,9.0 C1669.0,7.7 1684.3,6.3 1696.0,7.0 C1707.7,7.7 1716.3,9.2 1725.0,13.0 C1733.7,16.8 1740.3,22.3 1748.0,30.0 C1755.7,37.7 1763.5,47.8 1771.0,59.0 C1778.5,70.2 1787.7,87.2 1793.0,97.0 C1798.3,106.8 1800.6,113.8 1803.0,118.0 C1805.4,122.2 1805.6,121.0 1807.7,122.0 C1809.7,122.9 1813.5,122.4 1815.3,123.6 C1817.0,124.7 1818.2,127.4 1818.0,129.0 C1817.8,130.6 1815.8,132.8 1813.8,133.4 C1811.8,134.1 1809.1,132.6 1806.1,132.8 C1803.1,133.0 1797.3,133.2 1796.0,134.7 C1794.6,136.1 1796.0,139.2 1798.0,141.3 C1800.0,143.5 1804.0,146.4 1807.9,147.4 C1811.8,148.4 1818.4,146.4 1821.2,147.2 C1824.1,148.0 1824.9,150.3 1825.0,152.0 C1825.1,153.7 1824.5,156.1 1821.8,157.2 C1819.0,158.2 1812.8,157.0 1808.5,158.4 C1804.2,159.8 1797.7,163.3 1796.0,165.7 C1794.2,168.0 1794.6,170.5 1798.0,172.3 C1801.5,174.2 1811.1,175.8 1816.6,176.8 C1822.1,177.7 1827.9,176.7 1831.0,177.9 C1834.1,179.1 1835.1,182.0 1835.0,184.0 C1834.9,186.0 1833.7,188.9 1830.6,189.9 C1827.5,190.8 1819.6,189.3 1816.1,189.9 C1812.7,190.6 1810.9,191.7 1809.9,193.5 C1808.9,195.3 1808.5,198.7 1810.1,200.5 C1811.8,202.3 1816.4,203.8 1819.9,204.5 C1823.5,205.1 1828.7,203.4 1831.4,204.3 C1834.1,205.2 1835.9,208.0 1836.0,210.0 C1836.1,212.0 1834.7,215.0 1832.2,216.3 C1829.7,217.5 1824.5,216.5 1820.8,217.6 C1817.1,218.7 1812.2,221.1 1809.7,223.0 C1807.3,224.9 1806.6,227.4 1806.3,229.0 C1805.9,230.7 1806.1,231.6 1807.6,233.0 C1809.1,234.5 1813.7,235.7 1815.1,237.7 C1816.5,239.7 1816.9,243.2 1816.0,245.0 C1815.1,246.8 1811.9,248.4 1809.5,248.3 C1807.0,248.3 1805.1,246.0 1801.4,244.7 C1797.7,243.4 1790.6,240.3 1787.4,240.5 C1784.3,240.6 1782.8,243.3 1782.6,245.5 C1782.4,247.8 1784.5,250.9 1786.3,253.8 C1788.1,256.7 1792.7,260.2 1793.6,262.9 C1794.6,265.6 1793.5,268.7 1792.0,270.0 C1790.5,271.3 1787.3,272.1 1784.7,270.9 C1782.1,269.7 1779.6,265.3 1776.5,262.7 C1773.4,260.1 1768.8,256.0 1766.1,255.3 C1763.3,254.7 1761.2,256.5 1759.9,258.7 C1758.6,260.9 1758.0,264.4 1758.1,268.6 C1758.3,272.8 1761.3,280.1 1760.8,283.7 C1760.2,287.3 1757.3,289.5 1755.0,290.0 C1752.7,290.5 1749.1,289.7 1747.1,286.7 C1745.1,283.7 1745.0,277.1 1743.1,272.0 C1741.2,266.8 1737.9,258.2 1735.5,255.6 C1733.0,253.0 1730.2,252.9 1728.5,256.4 C1726.8,259.9 1726.0,271.0 1725.4,276.5 C1724.8,281.9 1726.1,286.1 1724.9,289.0 C1723.7,291.9 1720.3,294.0 1718.0,294.0 C1715.7,294.0 1712.2,292.1 1710.9,289.2 C1709.6,286.3 1710.7,279.3 1710.0,276.7 C1709.3,274.1 1708.2,274.0 1706.5,273.6 C1704.7,273.2 1701.4,273.1 1699.5,274.4 C1697.7,275.6 1696.1,278.2 1695.4,281.1 C1694.8,284.0 1696.6,288.9 1695.6,291.5 C1694.5,294.2 1691.3,296.8 1689.0,297.0 C1686.7,297.2 1683.1,295.1 1681.6,292.7 C1680.1,290.3 1681.3,286.4 1680.1,282.4 C1678.8,278.4 1676.3,270.6 1674.3,268.7 C1672.2,266.9 1669.3,268.2 1667.7,271.3 C1666.2,274.3 1665.6,281.5 1665.2,286.9 C1664.7,292.3 1666.1,300.2 1664.9,303.9 C1663.7,307.6 1660.3,308.9 1658.0,309.0 C1655.7,309.1 1652.3,307.9 1650.9,304.3 C1649.5,300.7 1650.5,292.4 1649.8,287.3 C1649.0,282.2 1648.2,275.8 1646.5,273.7 C1644.8,271.5 1641.6,271.5 1639.5,274.3 C1637.5,277.1 1635.4,285.0 1634.2,290.5 C1633.0,296.1 1633.9,304.0 1632.3,307.6 C1630.8,311.2 1627.3,312.2 1625.0,312.0 C1622.7,311.8 1619.4,310.4 1618.4,306.6 C1617.3,302.9 1619.3,294.5 1618.9,289.5 C1618.4,284.4 1617.0,279.3 1615.6,276.3 C1614.2,273.4 1611.7,271.2 1610.4,271.7 C1609.0,272.2 1608.4,276.7 1607.7,279.1 C1607.0,281.6 1607.7,284.6 1606.4,286.4 C1605.1,288.2 1602.0,290.2 1600.0,290.0 C1598.0,289.8 1595.3,287.3 1594.4,285.2 C1593.5,283.2 1594.7,280.4 1594.6,277.9 C1594.4,275.3 1594.7,271.6 1593.4,270.0 C1592.0,268.3 1588.8,268.0 1586.6,268.0 C1584.5,268.1 1582.7,268.4 1580.3,270.5 C1577.9,272.5 1574.9,278.6 1572.3,280.2 C1569.8,281.8 1566.6,281.2 1565.0,280.0 C1563.4,278.8 1561.9,275.9 1562.7,273.0 C1563.5,270.1 1567.4,266.9 1569.7,262.6 C1572.1,258.3 1576.6,250.3 1576.8,247.1 C1577.1,243.8 1574.7,242.6 1571.2,242.9 C1567.7,243.3 1560.7,246.3 1555.9,249.1 C1551.0,251.9 1545.6,258.4 1542.1,259.9 C1538.6,261.4 1536.3,259.5 1535.0,258.0 C1533.7,256.5 1532.3,253.9 1534.4,250.7 C1536.4,247.5 1544.1,243.0 1547.4,239.0 C1550.7,234.9 1553.3,229.7 1554.3,226.5 C1555.4,223.2 1555.6,220.5 1553.7,219.5 C1551.7,218.6 1545.6,220.5 1542.7,220.9 C1539.9,221.2 1538.5,222.4 1536.5,221.8 C1534.6,221.1 1531.5,218.9 1531.0,217.0 C1530.5,215.1 1532.2,211.6 1533.6,210.2 C1535.0,208.7 1538.1,208.7 1539.5,208.1 C1540.9,207.4 1542.2,210.7 1542.0,206.0 C1541.8,201.3 1539.8,191.0 1538.0,180.0 C1536.2,169.0 1532.3,156.7 1531.0,140.0 C1529.7,123.3 1529.2,93.3 1530.0,80.0Z" fill="#a9b4de" stroke="#5472b2" stroke-width="2.6"/><path d="M1616.5,145.0 C1617.6,139.0 1620.5,132.5 1627.8,127.0 C1635.0,121.5 1647.5,116.0 1660.0,112.0 C1672.5,108.0 1690.6,102.8 1702.6,103.0 C1714.6,103.2 1726.3,107.5 1732.0,113.0 C1737.7,118.5 1736.5,128.2 1737.0,136.0 C1737.5,143.8 1737.0,152.8 1735.0,160.0 C1733.0,167.2 1730.8,175.5 1725.0,179.0 C1719.2,182.5 1707.5,181.2 1700.0,181.0 C1692.5,180.8 1685.3,180.5 1680.0,178.0 C1674.7,175.5 1671.8,170.0 1668.0,166.0 C1664.2,162.0 1662.2,154.5 1657.0,154.0 C1651.8,153.5 1643.0,161.5 1637.0,163.0 C1631.0,164.5 1624.4,166.0 1621.0,163.0 C1617.6,160.0 1615.4,151.0 1616.5,145.0Z" fill="#5b79ae"/></g><circle cx="1601.8" cy="85" r="5.8" fill="#6f8ace"/><circle cx="1647.1" cy="92.9" r="5.8" fill="#6f8ace"/><circle cx="1567.8" cy="108.8" r="5.8" fill="#6f8ace"/><circle cx="1745.7" cy="106.5" r="5.8" fill="#6f8ace"/><circle cx="1580.2" cy="135.5" r="5.8" fill="#6f8ace"/><circle cx="1768.3" cy="155.9" r="5.8" fill="#6f8ace"/><circle cx="1596.1" cy="184" r="5.8" fill="#6f8ace"/><circle cx="1629.6" cy="193.7" r="5.8" fill="#6f8ace"/><circle cx="1752" cy="194.9" r="5.8" fill="#6f8ace"/><circle cx="1608.6" cy="218" r="5.8" fill="#6f8ace"/><circle cx="1658.9" cy="215.3" r="5.8" fill="#6f8ace"/><circle cx="1716.2" cy="219.4" r="5.8" fill="#6f8ace"/><circle cx="1760" cy="219.4" r="5.8" fill="#6f8ace"/><g transform="translate(31.7,1002.5)"><path d="M1530.0,80.0 C1530.8,66.7 1532.3,66.3 1536.0,60.0 C1539.7,53.7 1546.3,47.2 1552.0,42.0 C1557.7,36.8 1560.0,33.5 1570.0,29.0 C1580.0,24.5 1597.8,18.3 1612.0,15.0 C1626.2,11.7 1641.0,10.3 1655.0,9.0 C1669.0,7.7 1684.3,6.3 1696.0,7.0 C1707.7,7.7 1716.3,9.2 1725.0,13.0 C1733.7,16.8 1740.3,22.3 1748.0,30.0 C1755.7,37.7 1763.5,47.8 1771.0,59.0 C1778.5,70.2 1787.7,87.2 1793.0,97.0 C1798.3,106.8 1800.6,113.8 1803.0,118.0 C1805.4,122.2 1805.6,121.0 1807.7,122.0 C1809.7,122.9 1813.5,122.4 1815.3,123.6 C1817.0,124.7 1818.2,127.4 1818.0,129.0 C1817.8,130.6 1815.8,132.8 1813.8,133.4 C1811.8,134.1 1809.1,132.6 1806.1,132.8 C1803.1,133.0 1797.3,133.2 1796.0,134.7 C1794.6,136.1 1796.0,139.2 1798.0,141.3 C1800.0,143.5 1804.0,146.4 1807.9,147.4 C1811.8,148.4 1818.4,146.4 1821.2,147.2 C1824.1,148.0 1824.9,150.3 1825.0,152.0 C1825.1,153.7 1824.5,156.1 1821.8,157.2 C1819.0,158.2 1812.8,157.0 1808.5,158.4 C1804.2,159.8 1797.7,163.3 1796.0,165.7 C1794.2,168.0 1794.6,170.5 1798.0,172.3 C1801.5,174.2 1811.1,175.8 1816.6,176.8 C1822.1,177.7 1827.9,176.7 1831.0,177.9 C1834.1,179.1 1835.1,182.0 1835.0,184.0 C1834.9,186.0 1833.7,188.9 1830.6,189.9 C1827.5,190.8 1819.6,189.3 1816.1,189.9 C1812.7,190.6 1810.9,191.7 1809.9,193.5 C1808.9,195.3 1808.5,198.7 1810.1,200.5 C1811.8,202.3 1816.4,203.8 1819.9,204.5 C1823.5,205.1 1828.7,203.4 1831.4,204.3 C1834.1,205.2 1835.9,208.0 1836.0,210.0 C1836.1,212.0 1834.7,215.0 1832.2,216.3 C1829.7,217.5 1824.5,216.5 1820.8,217.6 C1817.1,218.7 1812.2,221.1 1809.7,223.0 C1807.3,224.9 1806.6,227.4 1806.3,229.0 C1805.9,230.7 1806.1,231.6 1807.6,233.0 C1809.1,234.5 1813.7,235.7 1815.1,237.7 C1816.5,239.7 1816.9,243.2 1816.0,245.0 C1815.1,246.8 1811.9,248.4 1809.5,248.3 C1807.0,248.3 1805.1,246.0 1801.4,244.7 C1797.7,243.4 1790.6,240.3 1787.4,240.5 C1784.3,240.6 1782.8,243.3 1782.6,245.5 C1782.4,247.8 1784.5,250.9 1786.3,253.8 C1788.1,256.7 1792.7,260.2 1793.6,262.9 C1794.6,265.6 1793.5,268.7 1792.0,270.0 C1790.5,271.3 1787.3,272.1 1784.7,270.9 C1782.1,269.7 1779.6,265.3 1776.5,262.7 C1773.4,260.1 1768.8,256.0 1766.1,255.3 C1763.3,254.7 1761.2,256.5 1759.9,258.7 C1758.6,260.9 1758.0,264.4 1758.1,268.6 C1758.3,272.8 1761.3,280.1 1760.8,283.7 C1760.2,287.3 1757.3,289.5 1755.0,290.0 C1752.7,290.5 1749.1,289.7 1747.1,286.7 C1745.1,283.7 1745.0,277.1 1743.1,272.0 C1741.2,266.8 1737.9,258.2 1735.5,255.6 C1733.0,253.0 1730.2,252.9 1728.5,256.4 C1726.8,259.9 1726.0,271.0 1725.4,276.5 C1724.8,281.9 1726.1,286.1 1724.9,289.0 C1723.7,291.9 1720.3,294.0 1718.0,294.0 C1715.7,294.0 1712.2,292.1 1710.9,289.2 C1709.6,286.3 1710.7,279.3 1710.0,276.7 C1709.3,274.1 1708.2,274.0 1706.5,273.6 C1704.7,273.2 1701.4,273.1 1699.5,274.4 C1697.7,275.6 1696.1,278.2 1695.4,281.1 C1694.8,284.0 1696.6,288.9 1695.6,291.5 C1694.5,294.2 1691.3,296.8 1689.0,297.0 C1686.7,297.2 1683.1,295.1 1681.6,292.7 C1680.1,290.3 1681.3,286.4 1680.1,282.4 C1678.8,278.4 1676.3,270.6 1674.3,268.7 C1672.2,266.9 1669.3,268.2 1667.7,271.3 C1666.2,274.3 1665.6,281.5 1665.2,286.9 C1664.7,292.3 1666.1,300.2 1664.9,303.9 C1663.7,307.6 1660.3,308.9 1658.0,309.0 C1655.7,309.1 1652.3,307.9 1650.9,304.3 C1649.5,300.7 1650.5,292.4 1649.8,287.3 C1649.0,282.2 1648.2,275.8 1646.5,273.7 C1644.8,271.5 1641.6,271.5 1639.5,274.3 C1637.5,277.1 1635.4,285.0 1634.2,290.5 C1633.0,296.1 1633.9,304.0 1632.3,307.6 C1630.8,311.2 1627.3,312.2 1625.0,312.0 C1622.7,311.8 1619.4,310.4 1618.4,306.6 C1617.3,302.9 1619.3,294.5 1618.9,289.5 C1618.4,284.4 1617.0,279.3 1615.6,276.3 C1614.2,273.4 1611.7,271.2 1610.4,271.7 C1609.0,272.2 1608.4,276.7 1607.7,279.1 C1607.0,281.6 1607.7,284.6 1606.4,286.4 C1605.1,288.2 1602.0,290.2 1600.0,290.0 C1598.0,289.8 1595.3,287.3 1594.4,285.2 C1593.5,283.2 1594.7,280.4 1594.6,277.9 C1594.4,275.3 1594.7,271.6 1593.4,270.0 C1592.0,268.3 1588.8,268.0 1586.6,268.0 C1584.5,268.1 1582.7,268.4 1580.3,270.5 C1577.9,272.5 1574.9,278.6 1572.3,280.2 C1569.8,281.8 1566.6,281.2 1565.0,280.0 C1563.4,278.8 1561.9,275.9 1562.7,273.0 C1563.5,270.1 1567.4,266.9 1569.7,262.6 C1572.1,258.3 1576.6,250.3 1576.8,247.1 C1577.1,243.8 1574.7,242.6 1571.2,242.9 C1567.7,243.3 1560.7,246.3 1555.9,249.1 C1551.0,251.9 1545.6,258.4 1542.1,259.9 C1538.6,261.4 1536.3,259.5 1535.0,258.0 C1533.7,256.5 1532.3,253.9 1534.4,250.7 C1536.4,247.5 1544.1,243.0 1547.4,239.0 C1550.7,234.9 1553.3,229.7 1554.3,226.5 C1555.4,223.2 1555.6,220.5 1553.7,219.5 C1551.7,218.6 1545.6,220.5 1542.7,220.9 C1539.9,221.2 1538.5,222.4 1536.5,221.8 C1534.6,221.1 1531.5,218.9 1531.0,217.0 C1530.5,215.1 1532.2,211.6 1533.6,210.2 C1535.0,208.7 1538.1,208.7 1539.5,208.1 C1540.9,207.4 1542.2,210.7 1542.0,206.0 C1541.8,201.3 1539.8,191.0 1538.0,180.0 C1536.2,169.0 1532.3,156.7 1531.0,140.0 C1529.7,123.3 1529.2,93.3 1530.0,80.0Z" fill="#a9b4de" stroke="#5472b2" stroke-width="2.6"/><path d="M1616.5,145.0 C1617.6,139.0 1620.5,132.5 1627.8,127.0 C1635.0,121.5 1647.5,116.0 1660.0,112.0 C1672.5,108.0 1690.6,102.8 1702.6,103.0 C1714.6,103.2 1726.3,107.5 1732.0,113.0 C1737.7,118.5 1736.5,128.2 1737.0,136.0 C1737.5,143.8 1737.0,152.8 1735.0,160.0 C1733.0,167.2 1730.8,175.5 1725.0,179.0 C1719.2,182.5 1707.5,181.2 1700.0,181.0 C1692.5,180.8 1685.3,180.5 1680.0,178.0 C1674.7,175.5 1671.8,170.0 1668.0,166.0 C1664.2,162.0 1662.2,154.5 1657.0,154.0 C1651.8,153.5 1643.0,161.5 1637.0,163.0 C1631.0,164.5 1624.4,166.0 1621.0,163.0 C1617.6,160.0 1615.4,151.0 1616.5,145.0Z" fill="#5b79ae"/></g><circle cx="1695" cy="1043.4" r="5.8" fill="#6f8ace"/><circle cx="1697.5" cy="1066.9" r="5.8" fill="#6f8ace"/><circle cx="1741.4" cy="1066.9" r="5.8" fill="#6f8ace"/><circle cx="1631.8" cy="1087.4" r="5.8" fill="#6f8ace"/><circle cx="1677.5" cy="1096.3" r="5.8" fill="#6f8ace"/><circle cx="1597.7" cy="1111.4" r="5.8" fill="#6f8ace"/><circle cx="1776.3" cy="1110.2" r="5.8" fill="#6f8ace"/><circle cx="1610.9" cy="1138.3" r="5.8" fill="#6f8ace"/><circle cx="1798.9" cy="1159" r="5.8" fill="#6f8ace"/><circle cx="1627.3" cy="1187.1" r="5.8" fill="#6f8ace"/><circle cx="1660.2" cy="1196.3" r="5.8" fill="#6f8ace"/><circle cx="1782.3" cy="1197.9" r="5.8" fill="#6f8ace"/><circle cx="1639.3" cy="1221.3" r="5.8" fill="#6f8ace"/><circle cx="1689.5" cy="1218.4" r="5.8" fill="#6f8ace"/><circle cx="1746.7" cy="1222.5" r="5.8" fill="#6f8ace"/><circle cx="1790.7" cy="1222.5" r="5.8" fill="#6f8ace"/><g id="krt8g"><path d="M1590,579 C1575,575 1566,562 1566,545 C1567,500 1610,459 1675,459 C1740,459 1780,495 1790,535 L1790,560 L1600,580 Z" fill="url(#kg)" stroke="#7a3d1c" stroke-width="3.6"/><ellipse cx="1637.6" cy="530" rx="33" ry="21.5" fill="#a5623f"/><g id="krtfront"><path d="M1598,626 C1590,624 1587,610 1589,590 C1593,555 1630,508 1705,508 C1770,508 1805,545 1812,580 C1816,600 1815,618 1806,622 C1780,630 1730,631 1700,630 C1660,630 1620,628 1598,626 Z" fill="url(#kg)" stroke="#7a3d1c" stroke-width="3.6"/><ellipse cx="1668.5" cy="583.6" rx="41.6" ry="30.9" fill="#a5623f"/></g></g><g transform="translate(0,0)"><path d="M2168.8,1025.9 C2174.2,1026.4 2180.8,1029.9 2185.0,1035.6 C2189.2,1041.3 2191.8,1050.3 2194.0,1060.0 C2196.2,1069.7 2196.2,1080.0 2197.9,1093.7 C2199.6,1107.4 2203.0,1125.9 2204.3,1142.1 C2205.7,1158.2 2205.7,1171.8 2206.0,1190.6 C2206.3,1209.4 2207.3,1239.0 2206.0,1255.1 C2204.7,1271.2 2204.6,1278.8 2197.9,1287.4 C2191.2,1296.0 2177.4,1301.4 2165.6,1306.8 C2153.8,1312.2 2140.9,1313.8 2126.9,1319.7 C2112.9,1325.6 2094.1,1337.5 2081.7,1342.3 C2069.3,1347.1 2058.8,1350.8 2052.6,1348.7 C2046.4,1346.6 2045.6,1339.6 2044.5,1329.4 C2043.4,1319.2 2044.2,1307.9 2046.1,1287.4 C2048.0,1267.0 2051.5,1228.2 2055.8,1206.7 C2060.1,1185.2 2065.5,1174.5 2072.0,1158.3 C2078.5,1142.1 2085.4,1125.9 2094.6,1109.8 C2103.8,1093.7 2117.2,1074.3 2126.9,1061.4 C2136.6,1048.5 2145.7,1038.3 2152.7,1032.4 C2159.7,1026.5 2163.4,1025.4 2168.8,1025.9Z" fill="#e8a3ab" stroke="#d8909a" stroke-width="1.5"/><path d="M2268.9,1032.4 C2274.3,1028.9 2279.7,1030.2 2288.3,1034.0 C2296.9,1037.8 2309.8,1045.0 2320.6,1055.0 C2331.3,1065.0 2343.1,1079.2 2352.8,1093.7 C2362.5,1108.2 2371.7,1125.9 2378.7,1142.1 C2385.7,1158.2 2390.5,1171.8 2394.8,1190.6 C2399.1,1209.4 2402.1,1233.6 2404.5,1255.1 C2406.9,1276.6 2409.0,1302.5 2409.3,1319.7 C2409.6,1336.9 2410.1,1354.1 2406.1,1358.4 C2402.1,1362.7 2396.7,1354.1 2385.1,1345.5 C2373.5,1336.9 2352.8,1315.4 2336.7,1306.8 C2320.6,1298.2 2301.8,1297.1 2288.3,1293.9 C2274.9,1290.7 2261.9,1293.9 2256.0,1287.4 C2250.1,1280.9 2252.8,1268.5 2252.8,1255.1 C2252.8,1241.6 2256.6,1222.8 2256.0,1206.7 C2255.4,1190.6 2250.6,1177.1 2249.5,1158.3 C2248.4,1139.5 2248.4,1110.9 2249.5,1093.7 C2250.6,1076.5 2252.8,1065.2 2256.0,1055.0 C2259.2,1044.8 2263.5,1035.9 2268.9,1032.4Z" fill="#e8a3ab" stroke="#d8909a" stroke-width="1.5"/><path d="M2176,1050 C2192,1058 2196,1085 2196,1108 C2190,1098 2180,1080 2176,1050Z" fill="#d67f8b"/><path d="M2262,1045 C2275,1040 2282,1050 2280,1065 C2270,1080 2260,1095 2255,1100 C2254,1075 2256,1055 2262,1045Z" fill="#d67f8b"/><path d="M2254,1210 C2270,1215 2285,1240 2285,1270 C2275,1285 2262,1292 2252,1288 C2248,1260 2250,1230 2254,1210Z" fill="#d67f8b"/><path d="M2056,1198 C2100,1205 2160,1205 2206,1195" fill="none" stroke="#d8909a" stroke-width="1.5"/><path d="M2050,1253 C2070,1280 2100,1305 2125,1320" fill="none" stroke="#d8909a" stroke-width="1.5"/><path d="M2270,1296 C2320,1285 2370,1260 2405,1232" fill="none" stroke="#d8909a" stroke-width="1.5"/><path d="M2206,1158 L2174,1166" stroke="#a093b8" stroke-width="15" stroke-linecap="round" opacity="0.75"/><path d="M2246,1158 L2290,1177" stroke="#a093b8" stroke-width="15" stroke-linecap="round" opacity="0.75"/><path d="M2179,1166 C2172,1180 2162,1205 2157,1217 C2153,1230 2150,1245 2146,1258" fill="none" stroke="#8f86b4" stroke-width="8.7" stroke-linecap="round" stroke-linejoin="round" opacity="0.85"/><path d="M2160,1161 C2157,1145 2155,1125 2154,1109 L2156,1093" fill="none" stroke="#8f86b4" stroke-width="7.2" stroke-linecap="round" stroke-linejoin="round" opacity="0.85"/><path d="M2154,1110 L2144,1101" fill="none" stroke="#8f86b4" stroke-width="5.1" stroke-linecap="round" stroke-linejoin="round" opacity="0.85"/><path d="M2155,1120 C2160,1116 2165,1114 2169,1114" fill="none" stroke="#8f86b4" stroke-width="5.1" stroke-linecap="round" stroke-linejoin="round" opacity="0.85"/><path d="M2156,1105 L2164,1094" fill="none" stroke="#8f86b4" stroke-width="5.1" stroke-linecap="round" stroke-linejoin="round" opacity="0.85"/><path d="M2165,1160 C2150,1157 2140,1155 2129,1154 C2120,1150 2114,1143 2110,1137" fill="none" stroke="#8f86b4" stroke-width="6.5" stroke-linecap="round" stroke-linejoin="round" opacity="0.85"/><path d="M2129,1154 C2127,1142 2126,1135 2126,1129" fill="none" stroke="#8f86b4" stroke-width="5.1" stroke-linecap="round" stroke-linejoin="round" opacity="0.85"/><path d="M2131,1156 C2120,1160 2110,1162 2104,1160" fill="none" stroke="#8f86b4" stroke-width="5.1" stroke-linecap="round" stroke-linejoin="round" opacity="0.85"/><path d="M2125,1158 C2120,1168 2116,1174 2113,1179" fill="none" stroke="#8f86b4" stroke-width="5.1" stroke-linecap="round" stroke-linejoin="round" opacity="0.85"/><path d="M2162,1202 C2150,1204 2140,1206 2129,1207 C2120,1207 2112,1206 2106,1206" fill="none" stroke="#8f86b4" stroke-width="6.5" stroke-linecap="round" stroke-linejoin="round" opacity="0.85"/><path d="M2125,1208 C2115,1214 2108,1220 2105,1225" fill="none" stroke="#8f86b4" stroke-width="5.1" stroke-linecap="round" stroke-linejoin="round" opacity="0.85"/><path d="M2151,1241 C2140,1243 2130,1245 2121,1246 C2112,1248 2104,1250 2097,1251" fill="none" stroke="#8f86b4" stroke-width="5.8" stroke-linecap="round" stroke-linejoin="round" opacity="0.85"/><path d="M2146,1250 C2142,1262 2138,1272 2134,1279" fill="none" stroke="#8f86b4" stroke-width="5.1" stroke-linecap="round" stroke-linejoin="round" opacity="0.85"/><path d="M2150,1250 C2153,1256 2156,1262 2160,1266" fill="none" stroke="#8f86b4" stroke-width="5.1" stroke-linecap="round" stroke-linejoin="round" opacity="0.85"/><path d="M2294,1179 C2300,1195 2308,1212 2314,1225 C2320,1240 2326,1262 2330,1283" fill="none" stroke="#8f86b4" stroke-width="8.7" stroke-linecap="round" stroke-linejoin="round" opacity="0.85"/><path d="M2300,1172 C2304,1160 2307,1145 2308,1130 C2310,1115 2311,1100 2311,1088" fill="none" stroke="#8f86b4" stroke-width="7.2" stroke-linecap="round" stroke-linejoin="round" opacity="0.85"/><path d="M2308,1128 C2300,1115 2296,1105 2294,1096" fill="none" stroke="#8f86b4" stroke-width="5.1" stroke-linecap="round" stroke-linejoin="round" opacity="0.85"/><path d="M2304,1140 C2295,1132 2288,1125 2281,1119" fill="none" stroke="#8f86b4" stroke-width="5.1" stroke-linecap="round" stroke-linejoin="round" opacity="0.85"/><path d="M2310,1118 C2316,1112 2322,1108 2327,1106" fill="none" stroke="#8f86b4" stroke-width="5.1" stroke-linecap="round" stroke-linejoin="round" opacity="0.85"/><path d="M2309,1140 C2320,1138 2330,1136 2337,1134" fill="none" stroke="#8f86b4" stroke-width="5.1" stroke-linecap="round" stroke-linejoin="round" opacity="0.85"/><path d="M2302,1176 C2315,1178 2325,1179 2336,1179 C2345,1175 2352,1168 2360,1162" fill="none" stroke="#8f86b4" stroke-width="6.5" stroke-linecap="round" stroke-linejoin="round" opacity="0.85"/><path d="M2336,1179 C2345,1182 2356,1184 2367,1185" fill="none" stroke="#8f86b4" stroke-width="5.1" stroke-linecap="round" stroke-linejoin="round" opacity="0.85"/><path d="M2340,1180 C2346,1187 2352,1192 2358,1197" fill="none" stroke="#8f86b4" stroke-width="5.1" stroke-linecap="round" stroke-linejoin="round" opacity="0.85"/><path d="M2315,1222 C2330,1220 2345,1218 2360,1217 C2365,1222 2369,1226 2372,1230" fill="none" stroke="#8f86b4" stroke-width="5.8" stroke-linecap="round" stroke-linejoin="round" opacity="0.85"/><path d="M2322,1240 C2340,1243 2360,1245 2377,1246" fill="none" stroke="#8f86b4" stroke-width="5.1" stroke-linecap="round" stroke-linejoin="round" opacity="0.85"/><path d="M2326,1258 C2338,1260 2350,1259 2360,1258" fill="none" stroke="#8f86b4" stroke-width="5.1" stroke-linecap="round" stroke-linejoin="round" opacity="0.85"/><path d="M2328,1268 C2333,1270 2338,1272 2344,1274" fill="none" stroke="#8f86b4" stroke-width="5.1" stroke-linecap="round" stroke-linejoin="round" opacity="0.85"/><path d="M2322,1262 C2320,1270 2319,1276 2319,1283" fill="none" stroke="#8f86b4" stroke-width="5.1" stroke-linecap="round" stroke-linejoin="round" opacity="0.85"/><rect x="2209" y="962" width="31" height="185" rx="4" fill="#6a8ec8"/><rect x="2209" y="972.0" width="31" height="5" rx="2.5" fill="#4068a8"/><rect x="2209" y="984.2" width="31" height="5" rx="2.5" fill="#4068a8"/><rect x="2209" y="996.4" width="31" height="5" rx="2.5" fill="#4068a8"/><rect x="2209" y="1008.6" width="31" height="5" rx="2.5" fill="#4068a8"/><rect x="2209" y="1020.8" width="31" height="5" rx="2.5" fill="#4068a8"/><rect x="2209" y="1033.0" width="31" height="5" rx="2.5" fill="#4068a8"/><rect x="2209" y="1045.2" width="31" height="5" rx="2.5" fill="#4068a8"/><rect x="2209" y="1057.4" width="31" height="5" rx="2.5" fill="#4068a8"/><rect x="2209" y="1069.6" width="31" height="5" rx="2.5" fill="#4068a8"/><rect x="2209" y="1081.8" width="31" height="5" rx="2.5" fill="#4068a8"/><rect x="2209" y="1094.0" width="31" height="5" rx="2.5" fill="#4068a8"/><rect x="2209" y="1106.2" width="31" height="5" rx="2.5" fill="#4068a8"/><rect x="2209" y="1118.4" width="31" height="5" rx="2.5" fill="#4068a8"/><rect x="2209" y="1130.6" width="31" height="5" rx="2.5" fill="#4068a8"/><path d="M2196,917 C2200,925 2204,922 2206,930 C2212,920 2220,925 2224,932 C2230,924 2238,920 2244,930 C2246,922 2250,920 2252,917 C2256,930 2250,945 2247,955 C2245,962 2242,966 2240,968 L2209,968 C2206,960 2200,952 2198,945 C2194,935 2194,925 2196,917Z" fill="#6a8ec8"/><path d="M2207,1140 L2242,1140 C2246,1150 2250,1158 2247,1165 L2240,1168 C2232,1160 2218,1160 2210,1168 L2203,1165 C2200,1158 2204,1150 2207,1140Z" fill="#6a8ec8"/></g><g><g transform="translate(0,-626)"><path d="M2168.8,1025.9 C2174.2,1026.4 2180.8,1029.9 2185.0,1035.6 C2189.2,1041.3 2191.8,1050.3 2194.0,1060.0 C2196.2,1069.7 2196.2,1080.0 2197.9,1093.7 C2199.6,1107.4 2203.0,1125.9 2204.3,1142.1 C2205.7,1158.2 2205.7,1171.8 2206.0,1190.6 C2206.3,1209.4 2207.3,1239.0 2206.0,1255.1 C2204.7,1271.2 2204.6,1278.8 2197.9,1287.4 C2191.2,1296.0 2177.4,1301.4 2165.6,1306.8 C2153.8,1312.2 2140.9,1313.8 2126.9,1319.7 C2112.9,1325.6 2094.1,1337.5 2081.7,1342.3 C2069.3,1347.1 2058.8,1350.8 2052.6,1348.7 C2046.4,1346.6 2045.6,1339.6 2044.5,1329.4 C2043.4,1319.2 2044.2,1307.9 2046.1,1287.4 C2048.0,1267.0 2051.5,1228.2 2055.8,1206.7 C2060.1,1185.2 2065.5,1174.5 2072.0,1158.3 C2078.5,1142.1 2085.4,1125.9 2094.6,1109.8 C2103.8,1093.7 2117.2,1074.3 2126.9,1061.4 C2136.6,1048.5 2145.7,1038.3 2152.7,1032.4 C2159.7,1026.5 2163.4,1025.4 2168.8,1025.9Z" fill="#c6a0ae" stroke="#b08898" stroke-width="1.5"/><path d="M2268.9,1032.4 C2274.3,1028.9 2279.7,1030.2 2288.3,1034.0 C2296.9,1037.8 2309.8,1045.0 2320.6,1055.0 C2331.3,1065.0 2343.1,1079.2 2352.8,1093.7 C2362.5,1108.2 2371.7,1125.9 2378.7,1142.1 C2385.7,1158.2 2390.5,1171.8 2394.8,1190.6 C2399.1,1209.4 2402.1,1233.6 2404.5,1255.1 C2406.9,1276.6 2409.0,1302.5 2409.3,1319.7 C2409.6,1336.9 2410.1,1354.1 2406.1,1358.4 C2402.1,1362.7 2396.7,1354.1 2385.1,1345.5 C2373.5,1336.9 2352.8,1315.4 2336.7,1306.8 C2320.6,1298.2 2301.8,1297.1 2288.3,1293.9 C2274.9,1290.7 2261.9,1293.9 2256.0,1287.4 C2250.1,1280.9 2252.8,1268.5 2252.8,1255.1 C2252.8,1241.6 2256.6,1222.8 2256.0,1206.7 C2255.4,1190.6 2250.6,1177.1 2249.5,1158.3 C2248.4,1139.5 2248.4,1110.9 2249.5,1093.7 C2250.6,1076.5 2252.8,1065.2 2256.0,1055.0 C2259.2,1044.8 2263.5,1035.9 2268.9,1032.4Z" fill="#c6a0ae" stroke="#b08898" stroke-width="1.5"/><path d="M2176,1050 C2192,1058 2196,1085 2196,1108 C2190,1098 2180,1080 2176,1050Z" fill="#a97d8e"/><path d="M2262,1045 C2275,1040 2282,1050 2280,1065 C2270,1080 2260,1095 2255,1100 C2254,1075 2256,1055 2262,1045Z" fill="#a97d8e"/><path d="M2254,1210 C2270,1215 2285,1240 2285,1270 C2275,1285 2262,1292 2252,1288 C2248,1260 2250,1230 2254,1210Z" fill="#a97d8e"/><path d="M2056,1198 C2100,1205 2160,1205 2206,1195" fill="none" stroke="#b08898" stroke-width="1.5"/><path d="M2050,1253 C2070,1280 2100,1305 2125,1320" fill="none" stroke="#b08898" stroke-width="1.5"/><path d="M2270,1296 C2320,1285 2370,1260 2405,1232" fill="none" stroke="#b08898" stroke-width="1.5"/><path d="M2206,1158 L2174,1166" stroke="#a093b8" stroke-width="15" stroke-linecap="round" opacity="0.75"/><path d="M2246,1158 L2290,1177" stroke="#a093b8" stroke-width="15" stroke-linecap="round" opacity="0.75"/><path d="M2179,1166 C2172,1180 2162,1205 2157,1217 C2153,1230 2150,1245 2146,1258" fill="none" stroke="#8f86b4" stroke-width="8.7" stroke-linecap="round" stroke-linejoin="round" opacity="0.85"/><path d="M2160,1161 C2157,1145 2155,1125 2154,1109 L2156,1093" fill="none" stroke="#8f86b4" stroke-width="7.2" stroke-linecap="round" stroke-linejoin="round" opacity="0.85"/><path d="M2154,1110 L2144,1101" fill="none" stroke="#8f86b4" stroke-width="5.1" stroke-linecap="round" stroke-linejoin="round" opacity="0.85"/><path d="M2155,1120 C2160,1116 2165,1114 2169,1114" fill="none" stroke="#8f86b4" stroke-width="5.1" stroke-linecap="round" stroke-linejoin="round" opacity="0.85"/><path d="M2156,1105 L2164,1094" fill="none" stroke="#8f86b4" stroke-width="5.1" stroke-linecap="round" stroke-linejoin="round" opacity="0.85"/><path d="M2165,1160 C2150,1157 2140,1155 2129,1154 C2120,1150 2114,1143 2110,1137" fill="none" stroke="#8f86b4" stroke-width="6.5" stroke-linecap="round" stroke-linejoin="round" opacity="0.85"/><path d="M2129,1154 C2127,1142 2126,1135 2126,1129" fill="none" stroke="#8f86b4" stroke-width="5.1" stroke-linecap="round" stroke-linejoin="round" opacity="0.85"/><path d="M2131,1156 C2120,1160 2110,1162 2104,1160" fill="none" stroke="#8f86b4" stroke-width="5.1" stroke-linecap="round" stroke-linejoin="round" opacity="0.85"/><path d="M2125,1158 C2120,1168 2116,1174 2113,1179" fill="none" stroke="#8f86b4" stroke-width="5.1" stroke-linecap="round" stroke-linejoin="round" opacity="0.85"/><path d="M2162,1202 C2150,1204 2140,1206 2129,1207 C2120,1207 2112,1206 2106,1206" fill="none" stroke="#8f86b4" stroke-width="6.5" stroke-linecap="round" stroke-linejoin="round" opacity="0.85"/><path d="M2125,1208 C2115,1214 2108,1220 2105,1225" fill="none" stroke="#8f86b4" stroke-width="5.1" stroke-linecap="round" stroke-linejoin="round" opacity="0.85"/><path d="M2151,1241 C2140,1243 2130,1245 2121,1246 C2112,1248 2104,1250 2097,1251" fill="none" stroke="#8f86b4" stroke-width="5.8" stroke-linecap="round" stroke-linejoin="round" opacity="0.85"/><path d="M2146,1250 C2142,1262 2138,1272 2134,1279" fill="none" stroke="#8f86b4" stroke-width="5.1" stroke-linecap="round" stroke-linejoin="round" opacity="0.85"/><path d="M2150,1250 C2153,1256 2156,1262 2160,1266" fill="none" stroke="#8f86b4" stroke-width="5.1" stroke-linecap="round" stroke-linejoin="round" opacity="0.85"/><rect x="2209" y="962" width="31" height="185" rx="4" fill="#8597b2"/><rect x="2209" y="972.0" width="31" height="5" rx="2.5" fill="#5a6f94"/><rect x="2209" y="984.2" width="31" height="5" rx="2.5" fill="#5a6f94"/><rect x="2209" y="996.4" width="31" height="5" rx="2.5" fill="#5a6f94"/><rect x="2209" y="1008.6" width="31" height="5" rx="2.5" fill="#5a6f94"/><rect x="2209" y="1020.8" width="31" height="5" rx="2.5" fill="#5a6f94"/><rect x="2209" y="1033.0" width="31" height="5" rx="2.5" fill="#5a6f94"/><rect x="2209" y="1045.2" width="31" height="5" rx="2.5" fill="#5a6f94"/><rect x="2209" y="1057.4" width="31" height="5" rx="2.5" fill="#5a6f94"/><rect x="2209" y="1069.6" width="31" height="5" rx="2.5" fill="#5a6f94"/><rect x="2209" y="1081.8" width="31" height="5" rx="2.5" fill="#5a6f94"/><rect x="2209" y="1094.0" width="31" height="5" rx="2.5" fill="#5a6f94"/><rect x="2209" y="1106.2" width="31" height="5" rx="2.5" fill="#5a6f94"/><rect x="2209" y="1118.4" width="31" height="5" rx="2.5" fill="#5a6f94"/><rect x="2209" y="1130.6" width="31" height="5" rx="2.5" fill="#5a6f94"/><path d="M2196,917 C2200,925 2204,922 2206,930 C2212,920 2220,925 2224,932 C2230,924 2238,920 2244,930 C2246,922 2250,920 2252,917 C2256,930 2250,945 2247,955 C2245,962 2242,966 2240,968 L2209,968 C2206,960 2200,952 2198,945 C2194,935 2194,925 2196,917Z" fill="#8597b2"/><path d="M2207,1140 L2242,1140 C2246,1150 2250,1158 2247,1165 L2240,1168 C2232,1160 2218,1160 2210,1168 L2203,1165 C2200,1158 2204,1150 2207,1140Z" fill="#8597b2"/></g><ellipse cx="2127" cy="603" rx="55" ry="66" fill="#a0786a" opacity="0.35"/><ellipse cx="2300" cy="478" rx="52" ry="50" fill="#a0786a" opacity="0.35"/><circle cx="2312.5" cy="485.8" r="30" fill="url(#les)"/><circle cx="2099.4" cy="582.7" r="20" fill="url(#les)"/><circle cx="2141.4" cy="639.2" r="20" fill="url(#les)"/><use href="#krtfront" transform="translate(2254.4,513.3) scale(0.54) translate(-1588,-507)"/><use href="#krtfront" transform="translate(2272.1,540.7) scale(0.54) translate(-1588,-507)"/><use href="#krtfront" transform="translate(2272.1,576.2) scale(0.54) translate(-1588,-507)"/></g><g fill="none" stroke="#262626" stroke-width="6" stroke-linejoin="round" stroke-linecap="round"><path d="M1049.4,736.8 L1068,742 L1072.1,759.5 L1058.7,768.8 L1042.2,763.6 L1038.1,747.1Z"/><path d="M1072.1,759.5 L1088.6,760.5 L1100,748.2 M1088.6,760.5 L1093.7,778"/><path d="M1058.7,768.8 L1064.9,786.3 L1052.5,798.6 L1037.1,795.5 M1052.5,798.6 L1059.7,815.1"/><path d="M1105.1,806.9 L1117.4,794.5 L1132.9,802.7 L1129.8,821.3 L1112.3,822.3Z"/><path d="M1087.6,803.8 L1105.1,806.9 M1132.9,802.7 L1152.5,793.5"/><path d="M1152.5,793.5 L1154.5,776 L1171,773.9 L1177.2,788.3 L1168.9,798.6Z"/><path d="M1177.2,788.3 L1196.7,792.5 L1198.8,808.9 L1185.4,821.3 L1170,816.1 L1168.9,798.6"/><path d="M1196.7,792.5 L1207,781.1"/><path d="M1076.2,840.9 L1090.6,834.7 L1104,845 L1103,861.5 L1088.6,866.6 L1076.2,858.4Z"/><path d="M1076.2,858.4 L1058.7,864.6 L1065.9,883.1 L1081.4,883.1 L1088.6,866.6"/><path d="M1081.4,883.1 L1090.6,898.6 L1083.4,913 L1064.9,913"/></g><ellipse cx="1370" cy="1110.4" rx="8.1" ry="8.8" fill="#1a8bc7"/><ellipse cx="1425.8" cy="1118.9" rx="8.1" ry="8.8" fill="#1a8bc7"/><ellipse cx="1463.9" cy="1125.4" rx="5.8" ry="6.3" fill="#2ea3d7"/><ellipse cx="1398.6" cy="1133.7" rx="6.4" ry="7" fill="#7fc6e4"/><ellipse cx="1293.4" cy="1145.7" rx="7.4" ry="8" fill="#2ea3d7"/><ellipse cx="1320.7" cy="1139.8" rx="8.3" ry="9" fill="#1a8bc7"/><ellipse cx="1353.7" cy="1149.6" rx="5.8" ry="6.3" fill="#2ea3d7"/><ellipse cx="1254.5" cy="1164.9" rx="5.5" ry="6" fill="#7fc6e4"/><ellipse cx="1422.8" cy="1164.6" rx="5.8" ry="6.3" fill="#2ea3d7"/><ellipse cx="1472.1" cy="1158.1" rx="6.4" ry="7" fill="#7fc6e4"/><ellipse cx="1271.5" cy="1208.3" rx="7.2" ry="7.8" fill="#2ea3d7"/><ellipse cx="1297" cy="1217.8" rx="6.3" ry="6.8" fill="#7fc6e4"/><ellipse cx="1350.1" cy="1207.3" rx="7.2" ry="7.8" fill="#2ea3d7"/><ellipse cx="1417" cy="1221.1" rx="5.8" ry="6.3" fill="#2ea3d7"/><ellipse cx="1462.3" cy="1240" rx="6.0" ry="6.5" fill="#7fc6e4"/><ellipse cx="1327.2" cy="1250" rx="8.3" ry="9" fill="#1a8bc7"/><ellipse cx="1370" cy="1249.4" rx="8.3" ry="9" fill="#1a8bc7"/><ellipse cx="1426.1" cy="1267.7" rx="7.2" ry="7.8" fill="#2ea3d7"/><path d="M1838,224 C1900,190 1905,85 1842,44" fill="none" stroke="url(#ca1)" stroke-width="5.5" stroke-linecap="butt"/><path d="M1804.6,27.2 L1848.8,35.1 L1838.6,54.4Z" fill="#1e1e1e"/><path d="M1862,100 L1911,150 M1860,152 L1912,98" stroke="#d0141f" stroke-width="7.5" stroke-linecap="butt"/><path d="M1848.6,1286.3 C1822,1356 1705,1390 1636,1334" fill="none" stroke="url(#ca2)" stroke-width="5.5" stroke-linecap="butt"/><path d="M1603.7,1298.2 L1644,1327.1 L1624.2,1342.9Z" fill="#1e1e1e"/><path d="M1118.6,1354 C1092,1410 1012,1432 965,1425 C940,1420 920,1410 905,1398" fill="none" stroke="url(#ca3)" stroke-width="6.5" stroke-linecap="butt"/><path d="M875.3,1364 L914.8,1393 L895.1,1408.9Z" fill="#1e1e1e"/><line x1="1234" y1="507.8" x2="1481.4" y2="507.8" stroke="url(#ga1)" stroke-width="8"/><path d="M1537.4,507.8 L1479.4,523.3 L1479.4,492.3Z" fill="#d0141f"/><line x1="1848" y1="507.4" x2="1985.3" y2="507.4" stroke="url(#ga2)" stroke-width="8"/><path d="M2041.3,507.4 L1983.3,522.9 L1983.3,491.9Z" fill="#d0141f"/><line x1="2394" y1="507.6" x2="2533.0" y2="507.6" stroke="url(#ga3)" stroke-width="8"/><path d="M2589,507.6 L2531.0,523.1 L2531.0,492.1Z" fill="#d0141f"/><line x1="1682.3" y1="321" x2="1682.3" y2="387.0" stroke="url(#ga4)" stroke-width="8"/><path d="M1682.3,443 L1666.8,385.0 L1697.8,385.0Z" fill="#d0141f"/><line x1="1213" y1="1197" x2="1492.0" y2="1197.0" stroke="url(#gb1)" stroke-width="8"/><path d="M1548,1197 L1490.0,1212.5 L1490.0,1181.5Z" fill="#4a9fc2"/><line x1="1876" y1="1197" x2="1998.8" y2="1197.0" stroke="url(#gb2)" stroke-width="8"/><path d="M2054.8,1197 L1996.8,1212.5 L1996.8,1181.5Z" fill="#4a9fc2"/><line x1="2400" y1="1197" x2="2522.5" y2="1197.0" stroke="url(#gb3)" stroke-width="8"/><path d="M2578.5,1197 L2520.5,1212.5 L2520.5,1181.5Z" fill="#4a9fc2"/><line x1="993.6" y1="632" x2="993.6" y2="874.7" stroke="url(#gb4)" stroke-width="8"/><path d="M993.6,930.7 L978.1,872.7 L1009.1,872.7Z" fill="#4a9fc2"/><line x1="489" y1="700" x2="726.3" y2="585.2" stroke="url(#gk1)" stroke-width="8"/><path d="M776.7,560.8 L731.2,600.0 L717.7,572.1Z" fill="#1e1e1e"/><line x1="491" y1="831.4" x2="704.7" y2="1007.3" stroke="url(#gk2)" stroke-width="8"/><path d="M747.9,1042.9 L693.3,1018.0 L713.0,994.1Z" fill="#1e1e1e"/><g transform="translate(329.5,1572) scale(1.24,1.03)"><g transform="translate(0,0) rotate(0)"><circle r="38.0" fill="#f1c23e" stroke="#e2a83a" stroke-width="1.2"/><circle r="31.2" fill="#fcf0c4" stroke="#e0a640" stroke-width="1.2"/><path d="M-2.0,-19.0 C0.8,-18.5 19.2,-10.7 21.0,-8.0 C22.8,-5.3 22.2,10.8 20.0,13.0 C17.8,15.2 -1.8,19.3 -5.0,18.0 C-8.2,16.7 -17.3,-0.3 -18.0,-3.0 C-18.7,-5.7 -14.3,-12.7 -13.0,-14.0 C-11.7,-15.3 -4.8,-19.5 -2.0,-19.0Z" fill="#efc447" stroke="#d9a03a" stroke-width="1.2"/></g></g><g transform="translate(834,1560) scale(1.0)"><g transform="translate(-10.3,3.4) rotate(0)"><circle r="27.0" fill="#f1c23e" stroke="#e2a83a" stroke-width="0.9"/><circle r="22.1" fill="#fcf0c4" stroke="#e0a640" stroke-width="0.9"/><path d="M-1.4,-13.5 C0.6,-13.1 13.6,-7.6 14.9,-5.7 C16.2,-3.8 15.7,7.7 14.2,9.2 C12.7,10.8 -1.3,13.7 -3.6,12.8 C-5.8,11.8 -12.3,-0.2 -12.8,-2.1 C-13.3,-4.0 -10.2,-9.0 -9.2,-9.9 C-8.3,-10.9 -3.4,-13.9 -1.4,-13.5Z" fill="#efc447" stroke="#d9a03a" stroke-width="0.9"/></g><g transform="translate(8.5,4) rotate(0)"><circle r="27.0" fill="#f1c23e" stroke="#e2a83a" stroke-width="0.9"/><circle r="22.1" fill="#fcf0c4" stroke="#e0a640" stroke-width="0.9"/><path d="M-1.4,-13.5 C0.6,-13.1 13.6,-7.6 14.9,-5.7 C16.2,-3.8 15.7,7.7 14.2,9.2 C12.7,10.8 -1.3,13.7 -3.6,12.8 C-5.8,11.8 -12.3,-0.2 -12.8,-2.1 C-13.3,-4.0 -10.2,-9.0 -9.2,-9.9 C-8.3,-10.9 -3.4,-13.9 -1.4,-13.5Z" fill="#efc447" stroke="#d9a03a" stroke-width="0.9"/></g><path d="M-15,-38 C-42,-29 -54,-9 -51,11 C-48,36 -27,46 -12,45 C3,45 16,41 24,36" fill="none" stroke="#8fa2cf" stroke-width="9" stroke-linecap="round"/><path d="M-15,-38 C-42,-29 -54,-9 -51,11 C-48,36 -27,46 -12,45 C3,45 16,41 24,36" fill="none" stroke="#c3cfea" stroke-width="6.5" stroke-linecap="round"/><path d="M-15,-38 C-42,-29 -54,-9 -51,11 C-48,36 -27,46 -12,45 C3,45 16,41 24,36" fill="none" stroke="#f4f7fc" stroke-width="2.2" stroke-linecap="round"/></g><g transform="translate(1348.5,1568.8) rotate(-4)"><rect x="-67.0" y="-31.5" width="134.0" height="63.0" rx="31.5" fill="#d99a8b" stroke="#6e3a32" stroke-width="1.4"/><path d="M-35.5,24.0 A24.0,24.0 0 0 1 -35.5,-24.0 L-30.3,-24.0 L-30.3,5.4 A3.25,3.25 0 0 0 -23.8,5.4 L-23.8,-24.0 L-12.3,-24.0 L-12.3,5.4 A3.25,3.25 0 0 0 -5.8,5.4 L-5.8,-24.0 L5.8,-24.0 L5.8,5.4 A3.25,3.25 0 0 0 12.3,5.4 L12.3,-24.0 L23.8,-24.0 L23.8,5.4 A3.25,3.25 0 0 0 30.3,5.4 L30.3,-24.0 L35.5,-24.0 A24.0,24.0 0 0 1 35.5,24.0 L39.3,24.0 L39.3,-5.4 A3.25,3.25 0 0 0 32.8,-5.4 L32.8,24.0 L21.3,24.0 L21.3,-5.4 A3.25,3.25 0 0 0 14.8,-5.4 L14.8,24.0 L3.2,24.0 L3.2,-5.4 A3.25,3.25 0 0 0 -3.2,-5.4 L-3.2,24.0 L-14.8,24.0 L-14.8,-5.4 A3.25,3.25 0 0 0 -21.3,-5.4 L-21.3,24.0 L-32.8,24.0 L-32.8,-5.4 A3.25,3.25 0 0 0 -39.3,-5.4 L-39.3,24.0Z" fill="#e4e3f3" stroke="#6e3a32" stroke-width="1.2" stroke-linejoin="round"/></g><g transform="translate(1920.7,1564.3) scale(0.95)"><line x1="-4.8" y1="-29.6" x2="-8.7" y2="-53.2" stroke="#2f5fa0" stroke-width="3.6" stroke-dasharray="2.6 1.1"/><line x1="11.1" y1="-27.9" x2="20.3" y2="-51.1" stroke="#2f5fa0" stroke-width="3.6" stroke-dasharray="2.6 1.1"/><line x1="22.3" y1="-20.1" x2="42.4" y2="-38.1" stroke="#2f5fa0" stroke-width="3.6" stroke-dasharray="2.6 1.1"/><line x1="30.0" y1="0.2" x2="52.1" y2="0.4" stroke="#2f5fa0" stroke-width="3.6" stroke-dasharray="2.6 1.1"/><line x1="28.1" y1="10.6" x2="50.6" y2="19.2" stroke="#2f5fa0" stroke-width="3.6" stroke-dasharray="2.6 1.1"/><line x1="17.4" y1="24.4" x2="34.8" y2="48.8" stroke="#2f5fa0" stroke-width="3.6" stroke-dasharray="2.6 1.1"/><line x1="5.4" y1="29.5" x2="10.6" y2="57.7" stroke="#2f5fa0" stroke-width="3.6" stroke-dasharray="2.6 1.1"/><line x1="-7.5" y1="29.1" x2="-14.2" y2="55.3" stroke="#2f5fa0" stroke-width="3.6" stroke-dasharray="2.6 1.1"/><line x1="-24.8" y1="16.8" x2="-47.3" y2="32.0" stroke="#2f5fa0" stroke-width="3.6" stroke-dasharray="2.6 1.1"/><line x1="-29.8" y1="3.2" x2="-55.9" y2="6.0" stroke="#2f5fa0" stroke-width="3.6" stroke-dasharray="2.6 1.1"/><line x1="-29.2" y1="-6.8" x2="-55.9" y2="-12.9" stroke="#2f5fa0" stroke-width="3.6" stroke-dasharray="2.6 1.1"/><line x1="-18.7" y1="-23.5" x2="-36.2" y2="-45.4" stroke="#2f5fa0" stroke-width="3.6" stroke-dasharray="2.6 1.1"/><path d="M0.0,-31.0 L9.2,-25.4 L19.9,-23.7 L23.4,-13.5 L30.5,-5.4 L26.6,4.7 L26.8,15.5 L17.4,20.7 L10.6,29.1 L0.0,27.0 L-10.6,29.1 L-17.4,20.7 L-26.8,15.5 L-26.6,4.7 L-30.5,-5.4 L-23.4,-13.5 L-19.9,-23.7 L-9.2,-25.4Z" fill="none" stroke="#e0507a" stroke-width="3"/><circle r="22" fill="#f4f0f4" stroke="#1f8a78" stroke-width="6.5" stroke-dasharray="3.2 1.4"/><circle r="14" fill="#f8f6fb" stroke="#2f5fa0" stroke-width="2.2"/><line x1="0" y1="0" x2="11.0" y2="0.0" stroke="#6a55b8" stroke-width="2.4"/><line x1="0" y1="0" x2="9.5" y2="5.5" stroke="#6a55b8" stroke-width="2.4"/><line x1="0" y1="0" x2="5.5" y2="9.5" stroke="#6a55b8" stroke-width="2.4"/><line x1="0" y1="0" x2="0.0" y2="11.0" stroke="#6a55b8" stroke-width="2.4"/><line x1="0" y1="0" x2="-5.5" y2="9.5" stroke="#6a55b8" stroke-width="2.4"/><line x1="0" y1="0" x2="-9.5" y2="5.5" stroke="#6a55b8" stroke-width="2.4"/><line x1="0" y1="0" x2="-11.0" y2="0.0" stroke="#6a55b8" stroke-width="2.4"/><line x1="0" y1="0" x2="-9.5" y2="-5.5" stroke="#6a55b8" stroke-width="2.4"/><line x1="0" y1="0" x2="-5.5" y2="-9.5" stroke="#6a55b8" stroke-width="2.4"/><line x1="0" y1="0" x2="-0.0" y2="-11.0" stroke="#6a55b8" stroke-width="2.4"/><line x1="0" y1="0" x2="5.5" y2="-9.5" stroke="#6a55b8" stroke-width="2.4"/><line x1="0" y1="0" x2="9.5" y2="-5.5" stroke="#6a55b8" stroke-width="2.4"/></g><text x="2604" y="487" font-family="Liberation Sans" font-weight="bold" font-size="62" fill="#231f20" stroke="#231f20" stroke-width="3.6" stroke-linejoin="round" letter-spacing="4" textLength="207.5" lengthAdjust="spacingAndGlyphs">Chronic</text><text x="2603" y="562.2" font-family="Liberation Sans" font-weight="bold" font-size="62" fill="#231f20" stroke="#231f20" stroke-width="3.6" stroke-linejoin="round" letter-spacing="4" textLength="238.5" lengthAdjust="spacingAndGlyphs">sequelae</text><text x="2605" y="636.4" font-family="Liberation Sans" font-weight="bold" font-size="62" fill="#231f20" stroke="#231f20" stroke-width="3.6" stroke-linejoin="round" letter-spacing="4" textLength="187.5" lengthAdjust="spacingAndGlyphs">(PASC)</text><text x="2595.5" y="1176.8" font-family="Liberation Sans" font-weight="bold" font-size="62" fill="#231f20" stroke="#231f20" stroke-width="3.6" stroke-linejoin="round" letter-spacing="4" textLength="256.5" lengthAdjust="spacingAndGlyphs">Complete</text><text x="2596.5" y="1251.4" font-family="Liberation Sans" font-weight="bold" font-size="62" fill="#231f20" stroke="#231f20" stroke-width="3.6" stroke-linejoin="round" letter-spacing="4" textLength="228.5" lengthAdjust="spacingAndGlyphs">recovery</text><text x="1298.5" y="481.7" font-family="Liberation Sans" font-weight="bold" font-size="62" fill="#231f20" stroke="#231f20" stroke-width="3.6" stroke-linejoin="round" letter-spacing="4" textLength="122.5" lengthAdjust="spacingAndGlyphs">IL-1b</text><text x="665" y="750" font-family="Liberation Sans" font-weight="bold" font-size="62" fill="#231f20" stroke="#231f20" stroke-width="3.6" stroke-linejoin="round" letter-spacing="4" textLength="118.5" lengthAdjust="spacingAndGlyphs">IFNs</text><text x="1013" y="705.4" font-family="Liberation Sans" font-weight="bold" font-size="62" fill="#231f20" stroke="#231f20" stroke-width="3.6" stroke-linejoin="round" letter-spacing="4" textLength="168.5" lengthAdjust="spacingAndGlyphs">4-PBA</text><text x="1676.5" y="1425.3" font-family="Liberation Sans" font-weight="bold" font-size="62" fill="#231f20" stroke="#231f20" stroke-width="3.6" stroke-linejoin="round" letter-spacing="4" textLength="101.5" lengthAdjust="spacingAndGlyphs">AT2</text><text x="1625" y="1492.5" font-family="Liberation Sans" font-weight="bold" font-size="62" fill="#231f20" stroke="#231f20" stroke-width="3.6" stroke-linejoin="round" letter-spacing="4" textLength="204.5" lengthAdjust="spacingAndGlyphs">renewal</text><text x="1633.5" y="74.8" font-family="Liberation Sans" font-weight="normal" font-size="65" fill="#231f20" textLength="90" lengthAdjust="spacingAndGlyphs">AT2</text><text x="255.5" y="865.9" font-family="Liberation Sans" font-weight="normal" font-size="65" fill="#231f20" textLength="77" lengthAdjust="spacingAndGlyphs">AM</text><text x="1597" y="695.4" font-family="Liberation Sans" font-weight="normal" font-size="65" fill="#231f20" textLength="133" lengthAdjust="spacingAndGlyphs">KRT8</text><text x="1730" y="681" font-family="Liberation Sans" font-weight="normal" font-size="46" fill="#231f20" textLength="77" lengthAdjust="spacingAndGlyphs">high</text><text x="394" y="1599" font-family="Liberation Sans" font-weight="normal" font-size="65" fill="#231f20" textLength="307" lengthAdjust="spacingAndGlyphs">Peroxisomes</text><text x="885.5" y="1599" font-family="Liberation Sans" font-weight="normal" font-size="65" fill="#231f20" textLength="260" lengthAdjust="spacingAndGlyphs">Pexophagy</text><text x="1429.5" y="1599.4" font-family="Liberation Sans" font-weight="normal" font-size="65" fill="#231f20" textLength="319" lengthAdjust="spacingAndGlyphs">Mitochondria</text><text x="2003.5" y="1599.4" font-family="Liberation Sans" font-weight="normal" font-size="65" fill="#231f20" textLength="362" lengthAdjust="spacingAndGlyphs">Inflammasome</text>
</svg></body></html>
